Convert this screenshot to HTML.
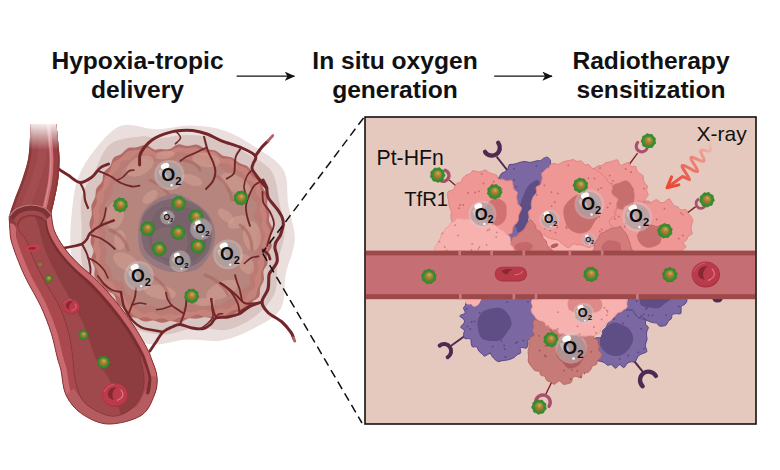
<!DOCTYPE html>
<html lang="en"><head><meta charset="utf-8"><title>Hypoxia-tropic delivery</title>
<style>
html,body{margin:0;padding:0;background:#fff;}
body{width:780px;height:470px;overflow:hidden;position:relative;font-family:"Liberation Sans",Arial,sans-serif;}
.h{position:absolute;text-align:center;font-weight:bold;font-size:24.6px;line-height:29.5px;color:#111;white-space:nowrap;transform:translateX(-50%);}
svg{position:absolute;left:0;top:0;}
svg text{font-family:"Liberation Sans",Arial,sans-serif;}
</style></head><body>
<svg width="780" height="470" viewBox="0 0 780 470">
<defs>
<marker id="ah" viewBox="0 0 10.3 9.2" refX="9.6" refY="4.6" markerWidth="10.3" markerHeight="9.2" orient="auto" markerUnits="userSpaceOnUse"><path d="M0 0L10.3 4.6L0 9.2L2.6 4.6Z" fill="#111"/></marker>
<radialGradient id="gold" cx="0.56" cy="0.32" r="0.75"><stop offset="0" stop-color="#CCAE68"/><stop offset="0.35" stop-color="#AC883A"/><stop offset="1" stop-color="#886828"/></radialGradient>
<linearGradient id="fadeTop" x1="0" y1="0" x2="0" y2="1"><stop offset="0" stop-color="#fff" stop-opacity="1"/><stop offset="0.17" stop-color="#fff" stop-opacity="0.85"/><stop offset="1" stop-color="#fff" stop-opacity="0"/></linearGradient>
<clipPath id="tubeClip"><path d="M30.8 124.0C30.6 127.5 30.0 138.8 29.5 145.0C29.0 151.2 29.0 154.9 27.7 161.0C26.4 167.1 23.7 175.0 21.5 181.5C19.3 188.0 16.4 194.2 14.4 200.0C12.3 205.8 10.0 212.4 9.2 216.4C8.4 220.4 9.4 222.7 9.5 224.0L52.0 224.0C51.9 222.4 50.9 218.4 51.3 214.4C51.7 210.4 53.3 205.5 54.4 200.0C55.5 194.5 57.1 188.0 58.0 181.5C58.9 175.0 59.4 167.1 59.5 161.0C59.6 154.9 59.0 151.2 58.5 145.0C58.0 138.8 56.8 127.5 56.4 124.0Z"/></clipPath>
<clipPath id="vesClip"><path d="M9.2 216.4C9.3 218.3 9.5 223.9 9.8 228.0C10.2 232.1 9.9 235.4 11.3 241.0C12.8 246.6 15.9 255.0 18.5 261.5C21.1 268.0 22.9 272.5 26.7 280.0C30.4 287.5 36.9 297.8 41.0 306.7C45.1 315.6 48.6 324.8 51.3 333.3C54.0 341.9 55.8 351.8 57.4 358.0C59.0 364.2 59.6 364.3 61.0 370.5C62.4 376.7 62.6 387.8 66.0 395.0C69.4 402.2 74.5 408.8 81.5 413.6C88.5 418.4 98.1 423.7 108.0 424.0C117.9 424.3 133.3 420.4 141.0 415.6C148.7 410.8 151.7 401.5 154.4 395.0C157.1 388.5 157.5 382.7 157.0 376.7C156.5 370.7 153.1 363.5 151.5 359.0C149.9 354.5 150.7 355.4 147.7 349.7C144.7 344.0 138.8 333.2 133.3 325.0C127.8 316.8 121.1 308.0 114.9 300.5C108.8 293.0 102.6 286.1 96.4 280.0C90.2 273.9 83.5 269.1 78.0 263.6C72.5 258.1 67.5 252.5 63.6 247.0C59.7 241.5 56.5 236.2 54.4 230.8C52.3 225.4 51.8 217.1 51.3 214.4C50.1 213.3 47.5 209.4 44.0 207.8C40.5 206.2 35.0 204.9 30.5 205.0C26.0 205.1 20.6 206.7 17.0 208.6C13.4 210.5 10.5 215.1 9.2 216.4Z"/></clipPath><clipPath id="lumClip"><path d="M17.0 225.0C17.5 226.2 18.4 229.3 20.0 232.0C21.6 234.7 24.4 236.3 26.7 241.0C29.0 245.7 31.1 253.5 34.0 260.0C36.9 266.5 39.8 272.2 44.0 280.0C48.2 287.8 55.4 297.9 59.5 306.7C63.6 315.5 66.5 324.4 68.7 333.0C70.9 341.6 71.7 350.0 72.8 358.0C73.9 366.0 73.6 373.6 75.4 380.8C77.2 388.0 79.2 395.8 83.6 401.3C88.0 406.8 96.2 411.2 102.0 413.6C107.8 416.0 113.0 417.0 118.5 415.6C124.0 414.2 130.7 410.5 134.9 405.4C139.2 400.3 143.0 392.6 144.0 385.0C145.0 377.4 142.2 366.2 141.0 360.0C139.8 353.8 138.9 353.0 136.5 348.0C134.1 343.0 131.2 336.9 126.5 330.0C121.8 323.1 114.6 313.7 108.5 306.3C102.4 298.9 96.1 292.1 90.0 285.8C83.9 279.6 77.4 274.5 72.0 268.8C66.6 263.1 61.4 257.1 57.4 251.4C53.4 245.7 50.2 239.4 48.2 234.4C46.2 229.4 46.0 223.7 45.6 221.5C44.8 220.8 43.4 218.4 41.0 217.3C38.6 216.2 34.3 215.0 31.0 215.2C27.7 215.3 23.3 216.6 21.0 218.2C18.7 219.8 17.7 223.9 17.0 225.0Z"/></clipPath><clipPath id="panelClip"><rect x="366" y="118" width="389" height="305"/></clipPath><linearGradient id="xg" gradientUnits="userSpaceOnUse" x1="714" y1="144" x2="668" y2="186"><stop offset="0" stop-color="#F1C3B6"/><stop offset="0.3" stop-color="#EE9486"/><stop offset="0.7" stop-color="#EA5E50"/><stop offset="1" stop-color="#EA4E3A"/></linearGradient></defs>
<line x1="236.6" y1="76.2" x2="294.4" y2="76.2" stroke="#111" stroke-width="1.25" marker-end="url(#ah)"/>
<line x1="494.2" y1="76.2" x2="552" y2="76.2" stroke="#111" stroke-width="1.25" marker-end="url(#ah)"/>
<g id="tumor">
<path d="M156.4 129.3C167.9 129.3 179.2 125.3 190.6 125.5C202.0 125.8 213.7 127.0 224.7 130.7C235.8 134.5 247.1 141.5 256.9 148.1C266.8 154.7 278.4 160.9 283.6 170.3C288.8 179.7 286.3 192.8 288.2 204.3C290.0 215.7 295.2 227.6 294.8 239.1C294.5 250.7 288.2 262.0 285.9 273.6C283.5 285.2 286.1 299.6 280.7 308.8C275.3 318.0 263.4 323.3 253.6 328.6C243.8 333.9 232.9 338.7 221.8 340.5C210.8 342.3 198.7 338.9 187.3 339.6C175.9 340.2 164.5 345.3 153.4 344.5C142.2 343.6 130.1 340.5 120.5 334.6C110.9 328.8 103.0 318.2 95.9 309.4C88.8 300.6 81.9 292.2 77.7 282.0C73.5 271.8 71.5 259.6 70.6 248.1C69.6 236.5 70.6 224.5 71.8 212.9C73.0 201.3 74.0 189.0 77.9 178.4C81.8 167.7 88.0 157.9 95.4 149.1C102.7 140.3 111.6 128.9 121.7 125.6C131.9 122.3 144.9 129.3 156.4 129.3Z" fill="#EADFDD"/>
<path d="M158.3 138.2C166.1 137.9 177.5 134.8 187.6 134.9C197.7 135.0 209.2 135.8 218.9 138.8C228.6 141.8 236.9 147.3 245.7 152.8C254.5 158.2 266.0 163.2 271.6 171.4C277.2 179.6 277.1 191.7 279.3 201.9C281.5 212.1 284.9 222.6 284.6 232.7C284.3 242.8 279.2 252.3 277.6 262.4C275.9 272.5 278.4 284.3 274.7 293.3C271.0 302.3 263.2 310.2 255.3 316.2C247.3 322.3 236.9 327.9 227.0 329.7C217.2 331.6 206.5 326.7 196.2 327.5C186.0 328.3 175.7 334.1 165.6 334.4C155.6 334.7 145.1 332.9 135.9 329.3C126.6 325.7 117.7 319.5 110.3 312.9C102.9 306.2 96.3 297.9 91.5 289.3C86.7 280.7 83.2 271.3 81.6 261.4C80.0 251.5 81.7 240.3 81.7 229.7C81.7 219.1 79.5 207.6 81.7 197.7C83.9 187.8 90.2 179.3 95.0 170.3C99.8 161.4 102.9 149.6 110.4 144.0C118.0 138.4 132.5 137.5 140.5 136.5C148.4 135.6 150.4 138.5 158.3 138.2Z" fill="#D9C5C2"/>
<path d="M159.9 149.1C162.5 149.1 166.5 149.8 169.5 149.0C172.5 148.3 174.9 144.9 177.9 144.4C181.0 143.9 184.5 146.1 187.7 146.1C190.8 146.2 194.1 144.2 197.1 144.7C200.1 145.2 202.7 148.1 205.7 149.1C208.7 150.0 212.3 149.5 215.2 150.6C218.0 151.7 220.2 154.5 223.0 155.7C225.8 156.8 229.2 156.3 231.9 157.5C234.7 158.8 236.9 161.5 239.6 163.1C242.2 164.6 245.7 164.9 248.0 166.8C250.3 168.7 251.3 172.1 253.5 174.3C255.7 176.5 259.6 177.5 261.2 179.8C262.8 182.1 262.0 185.4 263.0 188.0C264.1 190.6 267.0 193.0 267.7 195.6C268.3 198.3 266.8 201.1 267.1 203.9C267.4 206.7 269.1 209.6 269.5 212.4C269.8 215.2 268.6 217.9 269.1 220.7C269.6 223.5 272.2 226.3 272.4 229.2C272.6 232.1 270.4 235.0 270.2 237.9C270.1 240.8 272.2 243.8 271.6 246.7C271.1 249.5 267.7 252.1 267.0 254.9C266.3 257.8 268.0 260.9 267.5 263.6C266.9 266.3 264.1 268.4 263.5 271.1C262.9 273.8 264.5 277.0 263.9 279.7C263.4 282.5 261.1 284.9 260.3 287.7C259.5 290.5 260.5 294.1 259.2 296.4C257.9 298.8 254.6 299.7 252.6 301.7C250.6 303.7 249.5 306.9 247.2 308.4C245.0 309.9 241.6 309.6 239.0 310.9C236.3 312.1 234.1 315.0 231.5 315.9C228.8 316.7 225.8 315.4 223.2 315.9C220.5 316.5 218.3 319.0 215.5 319.2C212.6 319.4 209.3 317.1 206.2 317.0C203.1 316.9 200.0 318.4 197.0 318.6C194.1 318.9 191.2 317.8 188.4 318.5C185.6 319.1 183.1 322.2 180.2 322.6C177.2 323.1 173.9 321.0 170.9 321.0C167.9 321.0 164.9 322.9 162.0 322.8C159.1 322.7 156.1 320.6 153.2 320.4C150.3 320.2 147.6 321.9 144.8 321.5C142.0 321.1 139.2 318.9 136.5 318.0C133.7 317.2 130.3 317.9 128.2 316.3C126.1 314.8 125.5 311.0 123.8 308.9C122.0 306.8 119.2 306.0 117.5 303.6C115.8 301.2 115.7 296.8 113.7 294.5C111.7 292.3 107.8 291.8 105.6 289.9C103.3 288.0 102.0 285.4 100.2 283.1C98.4 280.9 95.4 278.8 94.5 276.2C93.6 273.6 95.2 270.3 94.6 267.5C94.1 264.8 91.3 262.4 91.2 259.6C91.0 256.8 93.7 253.8 93.6 250.9C93.5 248.0 90.9 245.2 90.6 242.2C90.2 239.2 91.7 236.0 91.6 233.0C91.4 229.9 89.4 227.0 89.5 223.9C89.5 220.9 91.5 217.7 91.8 214.6C92.2 211.6 90.9 208.7 91.4 205.8C92.0 202.8 94.3 199.7 95.2 196.9C96.0 194.0 95.3 191.3 96.4 188.7C97.6 186.1 100.9 183.9 102.2 181.3C103.4 178.6 102.4 175.1 103.7 172.6C105.0 170.1 108.4 168.6 110.1 166.1C111.7 163.6 111.8 159.8 113.7 157.8C115.5 155.8 118.8 155.7 121.2 154.1C123.6 152.4 125.6 149.2 128.1 148.0C130.6 146.9 133.3 147.7 136.3 147.2C139.3 146.7 143.2 144.6 146.2 145.0C149.2 145.4 151.8 148.8 154.1 149.5C156.4 150.2 157.4 149.2 159.9 149.1Z" fill="#B26C65"/>
<path d="M160.5 151.5C163.0 151.2 166.8 151.6 169.7 150.9C172.6 150.1 175.1 147.7 178.1 147.2C181.1 146.8 184.4 148.2 187.5 148.2C190.6 148.2 193.7 146.8 196.6 147.4C199.5 148.0 201.9 150.9 204.9 151.6C207.9 152.4 211.8 151.0 214.5 152.1C217.3 153.2 219.0 157.0 221.7 158.2C224.4 159.4 228.1 158.0 230.8 159.1C233.5 160.3 235.3 163.6 237.9 165.1C240.5 166.7 244.1 166.5 246.4 168.3C248.7 170.1 249.5 173.6 251.6 175.8C253.7 178.0 257.3 178.9 258.9 181.4C260.5 183.8 260.0 187.7 261.1 190.4C262.2 193.1 265.0 195.0 265.6 197.6C266.2 200.2 264.3 203.2 264.5 206.0C264.7 208.8 266.4 211.7 266.7 214.5C267.0 217.3 265.8 220.1 266.4 222.8C266.9 225.6 269.7 228.2 270.0 231.0C270.3 233.8 268.2 236.6 267.9 239.4C267.7 242.2 269.1 245.1 268.5 247.8C267.9 250.5 264.8 252.9 264.1 255.6C263.4 258.3 264.9 261.2 264.4 264.0C264.0 266.8 261.8 269.6 261.3 272.5C260.7 275.5 261.7 278.8 261.1 281.6C260.5 284.3 258.7 286.4 257.7 289.0C256.7 291.6 257.0 295.0 255.4 297.1C253.7 299.3 250.1 300.1 247.9 302.0C245.8 303.9 244.8 307.2 242.3 308.6C239.8 310.0 235.9 309.2 233.0 310.3C230.1 311.4 227.9 314.4 225.0 315.1C222.1 315.8 218.7 314.3 215.6 314.7C212.6 315.1 209.7 317.6 206.7 317.5C203.7 317.5 200.9 314.4 197.9 314.5C194.9 314.6 191.6 317.5 188.6 318.0C185.6 318.5 182.7 317.0 179.8 317.6C177.0 318.1 174.1 320.9 171.2 321.1C168.4 321.2 165.5 318.6 162.6 318.3C159.7 318.1 156.6 319.9 153.9 319.7C151.1 319.5 148.8 317.7 146.0 317.3C143.2 317.0 139.7 318.8 137.0 317.8C134.3 316.8 132.2 313.1 129.8 311.3C127.4 309.5 124.3 309.3 122.6 307.0C120.9 304.8 121.0 300.2 119.3 297.7C117.6 295.2 114.3 294.0 112.2 291.9C110.1 289.9 108.7 287.3 106.6 285.3C104.5 283.4 100.9 282.4 99.5 280.2C98.1 278.0 98.9 274.6 98.1 271.9C97.3 269.2 95.1 266.9 94.7 264.2C94.4 261.6 96.2 258.7 95.9 256.0C95.7 253.3 93.5 250.6 93.3 247.7C93.1 244.9 94.7 241.7 94.5 238.8C94.2 235.9 91.7 233.2 91.6 230.2C91.6 227.2 93.7 224.1 93.9 220.9C94.2 217.7 92.6 213.7 93.1 210.7C93.5 207.8 96.1 205.8 96.7 203.1C97.3 200.3 95.9 196.9 96.9 194.2C97.9 191.5 101.5 189.5 102.8 186.8C104.1 184.1 103.4 180.8 104.6 178.2C105.8 175.5 108.6 173.4 110.0 170.8C111.4 168.2 111.3 165.0 113.1 162.8C114.9 160.7 118.2 159.8 120.6 157.9C123.1 156.0 125.1 152.8 127.9 151.5C130.7 150.1 134.5 150.4 137.7 149.9C140.9 149.3 144.3 147.6 147.1 148.0C150.0 148.5 152.5 151.9 154.7 152.5C157.0 153.0 158.0 151.7 160.5 151.5Z" fill="#C5827A"/>
<path d="M161.7 155.9C164.0 156.1 167.8 157.0 170.5 156.3C173.3 155.7 175.5 152.6 178.3 152.1C181.0 151.6 184.2 153.1 187.1 153.1C190.0 153.2 193.0 151.9 195.7 152.4C198.5 152.9 200.7 155.7 203.6 156.4C206.4 157.1 210.1 155.6 212.7 156.7C215.3 157.8 216.7 161.8 219.2 162.9C221.7 164.0 225.4 162.3 227.9 163.3C230.5 164.4 232.1 167.6 234.6 169.1C237.0 170.6 240.3 170.6 242.4 172.3C244.5 174.0 245.2 177.4 247.3 179.4C249.4 181.3 253.5 181.8 254.9 184.1C256.3 186.4 254.8 190.4 256.0 193.1C257.1 195.8 261.0 197.8 261.6 200.5C262.2 203.1 259.3 206.2 259.4 208.9C259.5 211.7 261.9 214.0 262.2 216.9C262.6 219.9 261.2 223.5 261.7 226.6C262.2 229.8 265.0 232.9 265.0 236.0C265.0 239.0 262.4 242.2 261.9 245.2C261.5 248.1 262.9 250.9 262.2 253.7C261.5 256.4 258.5 259.0 257.8 261.8C257.2 264.6 258.8 267.7 258.3 270.5C257.8 273.3 255.5 275.6 254.8 278.4C254.2 281.2 255.7 284.8 254.6 287.2C253.5 289.7 249.9 290.8 248.2 293.1C246.5 295.3 246.4 299.0 244.3 300.7C242.3 302.4 238.6 302.1 235.9 303.4C233.3 304.7 231.1 307.7 228.4 308.5C225.7 309.3 222.4 307.7 219.5 308.3C216.7 308.9 214.1 311.8 211.3 312.0C208.6 312.2 205.8 309.5 203.0 309.5C200.1 309.5 197.2 311.6 194.4 311.9C191.6 312.3 189.1 311.3 186.2 311.8C183.4 312.4 180.2 314.9 177.4 315.2C174.5 315.5 171.9 313.5 169.1 313.6C166.4 313.8 163.6 316.1 160.9 315.8C158.2 315.5 155.8 312.3 152.8 311.9C149.8 311.5 145.8 314.2 142.9 313.5C139.9 312.9 137.8 309.9 135.2 308.2C132.7 306.6 129.4 305.6 127.5 303.5C125.6 301.3 125.6 297.4 123.8 295.2C122.0 292.9 118.6 292.0 116.7 289.9C114.9 287.8 114.6 284.2 112.6 282.4C110.5 280.5 106.1 281.0 104.6 278.9C103.1 276.7 104.6 272.3 103.7 269.4C102.8 266.4 99.6 264.1 99.1 261.2C98.6 258.3 100.9 254.9 100.8 252.1C100.7 249.2 98.6 246.9 98.5 244.1C98.4 241.4 100.6 238.4 100.4 235.6C100.1 232.8 97.4 230.5 97.2 227.6C97.1 224.7 99.2 221.4 99.5 218.1C99.8 214.9 98.3 211.1 98.9 208.1C99.6 205.1 102.4 203.0 103.3 200.2C104.1 197.4 103.2 193.8 104.2 191.1C105.2 188.5 108.2 187.0 109.4 184.4C110.6 181.8 110.1 178.1 111.5 175.6C113.0 173.1 116.5 171.6 118.2 169.2C119.9 166.9 119.8 163.1 121.9 161.4C123.9 159.7 127.9 160.6 130.6 159.2C133.3 157.7 135.2 153.5 137.9 152.8C140.6 152.1 143.8 154.4 147.0 154.7C150.2 155.1 154.5 154.6 156.9 154.8C159.4 155.0 159.5 155.6 161.7 155.9Z" fill="#B97B73"/>
<path d="M163.2 161.0C166.5 161.0 169.6 162.2 172.6 161.6C175.5 160.9 178.2 157.1 181.2 156.8C184.2 156.6 187.4 159.7 190.6 159.9C193.7 160.2 197.2 157.6 200.2 158.3C203.1 159.0 205.3 162.8 208.3 163.9C211.2 165.1 214.9 163.8 217.7 165.1C220.5 166.4 222.3 170.3 225.2 171.8C228.2 173.2 232.7 171.9 235.3 173.6C237.9 175.4 238.7 179.8 241.0 182.2C243.4 184.5 247.8 185.0 249.5 187.6C251.3 190.2 250.4 194.7 251.7 197.7C253.0 200.7 256.8 202.7 257.1 205.7C257.4 208.7 253.1 212.5 253.4 215.7C253.7 219.0 258.4 221.8 258.9 225.2C259.5 228.5 256.8 232.2 256.7 235.7C256.5 239.2 258.6 242.8 258.0 246.0C257.3 249.2 253.4 251.9 252.7 255.0C252.1 258.1 254.5 261.7 254.0 264.7C253.4 267.8 250.0 270.1 249.4 273.3C248.8 276.4 251.3 280.9 250.2 283.7C249.0 286.5 244.8 287.5 242.5 289.9C240.3 292.3 239.1 296.4 236.6 298.1C234.1 299.8 230.4 298.6 227.4 300.0C224.4 301.3 221.7 305.3 218.7 306.0C215.6 306.8 212.3 304.5 209.1 304.6C205.9 304.7 202.8 306.8 199.4 306.8C196.0 306.8 191.9 304.0 188.8 304.4C185.6 304.8 183.5 308.7 180.3 309.1C177.2 309.5 173.4 306.7 170.0 306.9C166.6 307.1 163.0 310.4 159.8 310.2C156.6 310.0 154.0 306.4 150.6 305.8C147.3 305.1 142.6 307.6 139.7 306.4C136.9 305.1 135.8 300.8 133.5 298.4C131.2 296.0 127.8 294.7 126.0 292.2C124.1 289.6 124.7 285.2 122.5 283.0C120.3 280.8 114.8 281.0 112.8 278.8C110.8 276.6 111.9 272.5 110.5 269.6C109.2 266.7 105.6 264.6 105.0 261.6C104.4 258.7 107.0 255.1 106.8 251.9C106.7 248.6 104.2 245.2 104.1 242.1C104.0 238.9 106.3 235.9 106.1 232.9C105.8 229.9 102.5 227.0 102.6 223.8C102.7 220.7 106.3 217.4 106.8 213.9C107.3 210.5 104.8 206.2 105.6 203.1C106.4 199.9 110.4 198.1 111.7 195.0C113.0 191.9 111.9 187.6 113.4 184.6C114.9 181.7 118.8 180.0 120.6 177.2C122.4 174.4 121.7 169.8 124.0 167.7C126.3 165.6 131.3 166.3 134.4 164.7C137.5 163.0 139.6 158.3 142.7 157.7C145.8 157.1 149.4 160.8 152.9 161.3C156.3 161.9 160.0 160.9 163.2 161.0Z" fill="#B6857D"/>
<ellipse cx="140" cy="166" rx="15" ry="9" fill="#D3A094" opacity="0.55" transform="rotate(-30 140 166)"/>
<ellipse cx="206" cy="160" rx="14" ry="7" fill="#D3A094" opacity="0.55" transform="rotate(10 206 160)"/>
<ellipse cx="236" cy="184" rx="17" ry="8" fill="#D3A094" opacity="0.55" transform="rotate(30 236 184)"/>
<ellipse cx="115" cy="215" rx="9" ry="14" fill="#D3A094" opacity="0.55" transform="rotate(10 115 215)"/>
<ellipse cx="252" cy="236" rx="9" ry="15" fill="#D3A094" opacity="0.55" transform="rotate(-5 252 236)"/>
<ellipse cx="126" cy="262" rx="14" ry="8" fill="#D3A094" opacity="0.55" transform="rotate(30 126 262)"/>
<ellipse cx="160" cy="292" rx="16" ry="7" fill="#D3A094" opacity="0.55" transform="rotate(10 160 292)"/>
<ellipse cx="222" cy="290" rx="17" ry="8" fill="#D3A094" opacity="0.55" transform="rotate(-25 222 290)"/>
<ellipse cx="192" cy="180" rx="11" ry="5" fill="#D3A094" opacity="0.55" transform="rotate(20 192 180)"/>
<ellipse cx="150" cy="197" rx="9" ry="5" fill="#D3A094" opacity="0.55" transform="rotate(-40 150 197)"/>
<ellipse cx="226" cy="216" rx="10" ry="5" fill="#D3A094" opacity="0.55" transform="rotate(40 226 216)"/>
<ellipse cx="120" cy="240" rx="6" ry="10" fill="#D3A094" opacity="0.55" transform="rotate(0 120 240)"/>
<ellipse cx="205" cy="302" rx="10" ry="4" fill="#D3A094" opacity="0.55" transform="rotate(0 205 302)"/>
<ellipse cx="246" cy="264" rx="7" ry="11" fill="#D3A094" opacity="0.55" transform="rotate(-30 246 264)"/>
<ellipse cx="165" cy="155" rx="10" ry="4" fill="#D3A094" opacity="0.55" transform="rotate(-10 165 155)"/>
<ellipse cx="238" cy="222" rx="11" ry="6" fill="#D3A094" opacity="0.55" transform="rotate(-20 238 222)"/>
<path d="M150 180 Q168 188 175 205" stroke="#A9655F" stroke-width="3" fill="none" opacity="0.6" stroke-linecap="round"/>
<path d="M215 175 Q229 183 232 200" stroke="#A9655F" stroke-width="3" fill="none" opacity="0.6" stroke-linecap="round"/>
<path d="M110 230 Q125 236 128 250" stroke="#A9655F" stroke-width="3" fill="none" opacity="0.6" stroke-linecap="round"/>
<path d="M240 225 Q252 233 252 250" stroke="#A9655F" stroke-width="3" fill="none" opacity="0.6" stroke-linecap="round"/>
<path d="M150 275 Q166 283 170 300" stroke="#A9655F" stroke-width="3" fill="none" opacity="0.6" stroke-linecap="round"/>
<path d="M205 275 Q222 281 228 295" stroke="#A9655F" stroke-width="3" fill="none" opacity="0.6" stroke-linecap="round"/>
<path d="M180 160 Q196 161 200 170" stroke="#A9655F" stroke-width="3" fill="none" opacity="0.6" stroke-linecap="round"/>
<path d="M215.2 234.0C215.4 240.4 213.5 247.5 210.5 253.4C207.4 259.3 202.7 266.2 196.9 269.3C191.2 272.5 182.8 272.6 176.0 272.3C169.2 272.0 162.0 270.5 156.2 267.4C150.5 264.2 144.4 259.0 141.4 253.5C138.4 247.9 138.2 240.5 138.2 234.0C138.3 227.5 138.8 220.4 141.7 214.7C144.7 209.1 150.2 203.5 155.9 200.1C161.6 196.6 169.5 193.5 176.0 193.9C182.5 194.3 189.1 199.0 194.6 202.6C200.2 206.1 205.8 210.0 209.3 215.3C212.7 220.5 215.0 227.6 215.2 234.0Z" fill="#96797F"/>
<path d="M211.9 234.0C211.9 240.0 210.9 246.8 208.0 251.9C205.1 257.1 199.8 262.6 194.5 265.1C189.2 267.6 181.8 267.5 176.0 267.0C170.2 266.5 164.5 264.6 159.4 261.9C154.3 259.3 148.5 255.8 145.4 251.1C142.4 246.5 141.7 239.9 141.3 234.0C140.9 228.1 140.6 220.8 143.3 215.6C146.0 210.4 152.0 205.6 157.5 202.8C162.9 199.9 169.9 198.3 176.0 198.4C182.1 198.5 188.8 200.5 194.2 203.4C199.5 206.3 205.0 210.9 208.0 216.0C210.9 221.1 211.9 228.0 211.9 234.0Z" fill="#7F676F"/>
<path d="M206.7 235.0C207.0 240.0 207.0 246.0 204.7 250.5C202.5 255.0 197.6 259.1 193.0 261.8C188.4 264.6 182.1 267.3 177.0 266.9C171.9 266.5 166.6 262.4 162.4 259.5C158.1 256.6 153.9 253.4 151.5 249.3C149.1 245.2 148.0 239.8 148.0 235.0C148.0 230.2 149.3 225.3 151.5 220.7C153.6 216.2 156.6 210.2 160.8 207.9C165.1 205.6 171.7 206.8 177.0 207.0C182.3 207.2 188.3 206.6 192.6 208.9C196.8 211.2 200.1 216.4 202.5 220.8C204.8 225.1 206.3 230.0 206.7 235.0Z" fill="#77626C"/>
<path d="M187.5 242.0C187.5 245.1 187.9 248.7 186.0 251.2C184.1 253.6 179.8 255.6 176.0 256.7C172.3 257.8 167.1 258.6 163.6 257.5C160.2 256.5 157.3 253.0 155.3 250.4C153.4 247.8 152.2 244.9 151.9 242.0C151.7 239.1 151.9 235.2 153.9 232.8C155.9 230.3 160.3 228.0 163.9 227.3C167.6 226.5 172.0 227.4 175.6 228.3C179.3 229.2 184.0 230.6 185.9 232.9C187.9 235.1 187.5 238.9 187.5 242.0Z" fill="#82696F" opacity="0.85"/>
</g>
<path d="M139.6 165.0C139.7 163.3 139.2 158.0 140.0 155.0C140.8 152.0 142.7 149.5 144.7 147.0C146.7 144.5 149.4 141.9 152.0 140.0C154.6 138.1 156.0 137.1 160.0 135.6C164.0 134.1 170.5 131.8 176.0 131.0C181.5 130.2 187.6 130.0 192.8 130.5C198.0 131.0 202.2 132.3 207.0 134.0C211.8 135.7 215.7 138.5 221.5 140.8C227.3 143.1 236.3 145.5 242.0 148.0C247.7 150.5 253.6 153.3 255.4 156.0C257.2 158.7 253.5 161.8 253.0 164.0C252.5 166.2 251.3 167.0 252.3 169.5C253.3 172.0 256.6 175.9 259.0 179.0C261.4 182.1 266.0 187.8 266.7 188.0C267.4 188.2 263.6 181.3 263.0 180.0" fill="none" stroke="#73262A" stroke-width="3.0" stroke-linecap="round" stroke-linejoin="round" opacity="1"/>
<path d="M255.4 156.0C256.5 154.5 259.9 149.5 262.0 147.0C264.1 144.5 267.0 142.0 268.0 141.0" fill="none" stroke="#73262A" stroke-width="3.0" stroke-linecap="round" stroke-linejoin="round" opacity="1"/>
<path d="M268.0 141.0C268.8 140.1 272.0 136.5 272.8 135.6" fill="none" stroke="#B4626A" stroke-width="2.8" stroke-linecap="round" stroke-linejoin="round" opacity="1"/>
<path d="M266.7 188.0C266.9 189.5 266.9 194.3 268.0 197.0C269.1 199.7 271.3 201.7 273.0 204.0C274.7 206.3 276.8 208.4 278.3 210.6C279.8 212.8 281.1 214.8 282.0 217.0C282.9 219.2 283.4 221.8 283.4 224.0C283.4 226.2 282.6 228.0 282.0 230.0C281.4 232.0 281.0 234.0 280.0 236.0C279.0 238.0 276.9 240.0 276.0 242.0C275.1 244.0 274.8 246.0 274.9 248.0C275.0 250.0 276.1 251.7 276.5 254.0C276.9 256.3 277.8 259.3 277.0 262.0C276.2 264.7 273.3 267.8 272.0 270.0C270.7 272.2 269.7 271.8 269.0 275.0C268.3 278.2 269.2 284.5 268.0 289.0C266.8 293.5 262.0 298.1 262.0 302.0C262.0 305.9 264.7 309.2 268.0 312.5C271.3 315.8 278.2 318.7 282.0 322.0C285.8 325.3 289.1 329.7 291.0 332.4C292.9 335.1 293.1 337.1 293.5 338.0" fill="none" stroke="#73262A" stroke-width="3.1" stroke-linecap="round" stroke-linejoin="round" opacity="1"/>
<path d="M293.5 338.0C293.7 338.5 294.5 340.5 294.7 341.0" fill="none" stroke="#B4626A" stroke-width="3.0" stroke-linecap="round" stroke-linejoin="round" opacity="1"/>
<path d="M262.5 192.0C262.7 193.8 262.2 199.7 263.5 203.0C264.8 206.3 268.2 208.5 270.0 212.0C271.8 215.5 274.0 220.0 274.0 224.0C274.0 228.0 271.2 232.3 270.0 236.0C268.8 239.7 267.5 244.3 267.0 246.0" fill="none" stroke="#73262A" stroke-width="1.8" stroke-linecap="round" stroke-linejoin="round" opacity="1"/>
<path d="M263.0 250.0C263.8 250.7 266.8 252.5 268.0 254.0C269.2 255.5 269.7 258.2 270.0 259.0" fill="none" stroke="#73262A" stroke-width="2.8" stroke-linecap="round" stroke-linejoin="round" opacity="1"/>
<path d="M204.0 136.7C204.7 139.1 206.5 146.8 208.0 151.0C209.5 155.2 211.8 158.6 213.0 162.0C214.2 165.4 215.4 168.3 215.4 171.5C215.4 174.7 214.6 178.1 213.0 181.0C211.4 183.9 207.2 187.7 206.0 189.0" fill="none" stroke="#73262A" stroke-width="2.0" stroke-linecap="round" stroke-linejoin="round" opacity="1"/>
<path d="M205.5 148.0C203.8 148.8 198.2 151.5 195.0 153.0C191.8 154.5 188.4 155.7 186.0 157.0C183.6 158.3 181.4 160.3 180.5 161.0" fill="none" stroke="#73262A" stroke-width="1.8" stroke-linecap="round" stroke-linejoin="round" opacity="1"/>
<path d="M241.0 148.0C240.2 149.3 237.0 153.4 236.0 156.0C235.0 158.6 235.3 160.4 234.9 163.3C234.5 166.2 235.2 171.0 233.8 173.6C232.4 176.2 227.9 177.8 226.7 178.7" fill="none" stroke="#73262A" stroke-width="1.9" stroke-linecap="round" stroke-linejoin="round" opacity="1"/>
<path d="M176.0 131.5C176.8 132.5 180.6 135.6 180.5 137.7C180.4 139.8 176.2 142.8 175.4 143.8" fill="none" stroke="#73262A" stroke-width="1.6" stroke-linecap="round" stroke-linejoin="round" opacity="1"/>
<path d="M252.3 169.5C251.4 170.6 248.4 173.2 247.0 176.0C245.6 178.8 244.2 182.7 244.0 186.0C243.8 189.3 245.7 194.3 246.0 196.0" fill="none" stroke="#73262A" stroke-width="1.6" stroke-linecap="round" stroke-linejoin="round" opacity="1"/>
<path d="M263.0 180.0C261.5 181.0 256.3 183.3 254.0 186.0C251.7 188.7 250.3 192.7 249.0 196.0C247.7 199.3 246.3 202.7 246.0 206.0C245.7 209.3 246.3 212.7 247.0 216.0C247.7 219.3 249.5 224.3 250.0 226.0" fill="none" stroke="#73262A" stroke-width="1.8" stroke-linecap="round" stroke-linejoin="round" opacity="1"/>
<path d="M58.5 169.0C60.1 170.0 64.4 172.8 68.0 175.0C71.6 177.2 76.0 182.2 80.0 182.5C84.0 182.8 88.7 179.4 92.0 177.0C95.3 174.6 97.2 170.2 100.0 168.0C102.8 165.8 107.2 164.7 108.7 164.0" fill="none" stroke="#73262A" stroke-width="2.8" stroke-linecap="round" stroke-linejoin="round" opacity="1"/>
<path d="M80.0 182.5C80.7 183.9 83.2 188.1 84.0 191.0C84.8 193.9 84.3 197.2 85.0 200.0C85.7 202.8 87.5 206.7 88.0 208.0" fill="none" stroke="#73262A" stroke-width="2.2" stroke-linecap="round" stroke-linejoin="round" opacity="1"/>
<path d="M98.5 171.0C100.4 171.8 106.2 174.0 110.0 176.0C113.8 178.0 117.3 181.2 121.0 183.0C124.7 184.8 128.9 186.1 132.0 186.5C135.1 186.9 138.2 185.8 139.5 185.6" fill="none" stroke="#73262A" stroke-width="1.9" stroke-linecap="round" stroke-linejoin="round" opacity="1"/>
<path d="M117.0 180.5C118.0 179.9 121.0 178.6 123.0 177.0C125.0 175.4 127.2 172.2 129.0 171.0C130.8 169.8 133.2 170.2 134.0 170.0" fill="none" stroke="#73262A" stroke-width="1.6" stroke-linecap="round" stroke-linejoin="round" opacity="1"/>
<path d="M63.6 248.0C65.0 247.8 68.9 247.2 72.0 246.5C75.1 245.8 79.5 245.2 82.0 244.0C84.5 242.8 85.6 240.9 87.0 239.0C88.4 237.1 88.1 235.0 90.3 232.8C92.5 230.6 96.1 228.1 100.0 226.0C103.9 223.9 111.5 221.4 113.8 220.5" fill="none" stroke="#73262A" stroke-width="2.5" stroke-linecap="round" stroke-linejoin="round" opacity="1"/>
<path d="M82.0 244.0C82.8 245.7 85.6 250.1 87.0 254.0C88.4 257.9 89.8 264.0 90.3 267.7C90.8 271.4 90.0 274.6 90.0 276.0" fill="none" stroke="#73262A" stroke-width="2.0" stroke-linecap="round" stroke-linejoin="round" opacity="1"/>
<path d="M91.0 235.0C92.5 235.5 97.2 236.7 100.0 238.0C102.8 239.3 105.5 241.2 108.0 243.0C110.5 244.8 113.8 248.0 114.9 249.0" fill="none" stroke="#73262A" stroke-width="1.8" stroke-linecap="round" stroke-linejoin="round" opacity="1"/>
<path d="M88.0 258.0C89.3 258.7 93.3 260.0 96.0 262.0C98.7 264.0 102.0 267.3 104.0 270.0C106.0 272.7 107.3 276.7 108.0 278.0" fill="none" stroke="#73262A" stroke-width="1.6" stroke-linecap="round" stroke-linejoin="round" opacity="1"/>
<path d="M100.0 226.0C100.7 224.7 103.0 221.0 104.0 218.0C105.0 215.0 105.7 209.7 106.0 208.0" fill="none" stroke="#73262A" stroke-width="1.6" stroke-linecap="round" stroke-linejoin="round" opacity="1"/>
<path d="M150.0 351.0C151.0 349.5 153.8 345.2 156.0 342.0C158.2 338.8 160.3 334.5 163.0 332.0C165.7 329.5 169.2 328.2 172.0 327.0C174.8 325.8 176.7 324.3 180.0 324.5C183.3 324.7 188.1 327.3 192.0 328.0C195.9 328.7 200.2 329.4 203.4 328.7C206.6 328.0 208.9 325.8 211.0 324.0C213.1 322.2 213.2 319.2 216.0 318.0C218.8 316.8 224.1 317.7 228.0 317.0C231.9 316.3 236.6 315.1 239.6 313.8C242.6 312.5 243.9 310.4 246.0 309.0C248.1 307.6 249.3 306.7 252.0 305.5C254.7 304.3 260.3 302.6 262.0 302.0" fill="none" stroke="#73262A" stroke-width="2.8" stroke-linecap="round" stroke-linejoin="round" opacity="1"/>
<path d="M163.0 332.0C161.2 331.7 155.6 330.7 152.0 330.0C148.4 329.3 144.9 329.2 141.7 327.7C138.5 326.2 135.3 323.3 133.0 321.0C130.7 318.7 129.4 316.1 127.9 313.8C126.4 311.5 124.9 309.1 124.0 307.0C123.1 304.9 123.0 303.5 122.5 301.0C122.0 298.5 121.2 293.5 121.0 292.0" fill="none" stroke="#73262A" stroke-width="2.4" stroke-linecap="round" stroke-linejoin="round" opacity="1"/>
<path d="M128.5 314.0C129.1 312.5 130.9 307.8 132.0 305.0C133.1 302.2 134.3 299.8 135.0 297.0C135.7 294.2 135.8 289.5 136.0 288.0" fill="none" stroke="#73262A" stroke-width="1.8" stroke-linecap="round" stroke-linejoin="round" opacity="1"/>
<path d="M132.0 305.0C133.2 304.7 136.7 303.2 139.0 303.0C141.3 302.8 144.8 303.8 146.0 304.0" fill="none" stroke="#73262A" stroke-width="1.5" stroke-linecap="round" stroke-linejoin="round" opacity="1"/>
<path d="M180.0 324.5C180.7 322.7 183.0 317.1 184.0 313.8C185.0 310.6 185.6 307.8 186.0 305.0C186.4 302.2 186.3 298.2 186.4 296.8" fill="none" stroke="#73262A" stroke-width="1.9" stroke-linecap="round" stroke-linejoin="round" opacity="1"/>
<path d="M184.0 313.8C182.8 313.0 179.1 310.5 177.0 309.0C174.9 307.5 173.1 306.7 171.5 305.0C169.9 303.3 168.4 301.1 167.5 299.0C166.6 296.9 166.2 293.7 166.0 292.6" fill="none" stroke="#73262A" stroke-width="1.8" stroke-linecap="round" stroke-linejoin="round" opacity="1"/>
<path d="M172.0 305.5C170.7 306.0 166.6 307.8 164.0 308.5C161.4 309.2 157.8 309.4 156.6 309.6" fill="none" stroke="#73262A" stroke-width="1.5" stroke-linecap="round" stroke-linejoin="round" opacity="1"/>
<path d="M216.0 318.0C215.5 316.5 213.8 312.2 213.0 309.0C212.2 305.8 211.2 300.7 210.9 299.0" fill="none" stroke="#73262A" stroke-width="1.8" stroke-linecap="round" stroke-linejoin="round" opacity="1"/>
<path d="M216.0 316.5C216.5 316.1 217.9 314.4 219.0 314.0C220.1 313.6 222.0 313.8 222.6 313.8" fill="none" stroke="#73262A" stroke-width="1.5" stroke-linecap="round" stroke-linejoin="round" opacity="1"/>
<path d="M239.6 313.8C239.3 312.2 239.1 307.2 238.0 304.0C236.9 300.8 234.8 297.4 233.0 294.7C231.2 292.0 229.1 289.9 227.0 288.0C224.9 286.1 221.5 283.8 220.4 283.0" fill="none" stroke="#73262A" stroke-width="1.9" stroke-linecap="round" stroke-linejoin="round" opacity="1"/>
<path d="M262.0 302.0C260.5 302.2 255.9 303.3 253.0 303.5C250.1 303.7 247.1 304.2 244.4 303.0C241.7 301.8 239.3 298.2 237.0 296.0C234.7 293.8 232.4 291.7 230.4 290.0C228.4 288.3 226.7 287.2 225.0 286.0C223.3 284.8 220.8 283.5 220.0 283.0" fill="none" stroke="#73262A" stroke-width="2.0" stroke-linecap="round" stroke-linejoin="round" opacity="1"/>
<path d="M242.0 301.0C241.6 299.2 240.6 293.2 239.8 290.0C239.0 286.8 237.8 284.5 237.0 282.0C236.2 279.5 235.3 276.2 235.0 275.0" fill="none" stroke="#73262A" stroke-width="1.8" stroke-linecap="round" stroke-linejoin="round" opacity="1"/>
<path d="M250.0 305.0C249.0 305.7 245.9 307.8 244.0 309.0C242.1 310.2 239.5 311.9 238.6 312.5" fill="none" stroke="#73262A" stroke-width="1.5" stroke-linecap="round" stroke-linejoin="round" opacity="1"/>
<path d="M258.5 256.4C257.2 256.7 253.3 256.8 251.0 258.0C248.7 259.2 245.5 262.5 244.4 263.4" fill="none" stroke="#73262A" stroke-width="1.6" stroke-linecap="round" stroke-linejoin="round" opacity="1"/>
<path d="M211.7 298.5C211.8 300.1 211.8 304.9 212.0 308.0C212.2 311.1 213.7 314.3 212.9 317.0C212.1 319.7 209.2 322.0 207.0 324.0C204.8 326.0 201.2 328.2 200.0 329.0" fill="none" stroke="#73262A" stroke-width="1.6" stroke-linecap="round" stroke-linejoin="round" opacity="1"/>
<path d="M121.0 292.0C119.5 291.7 114.8 291.3 112.0 290.0C109.2 288.7 106.3 286.3 104.0 284.0C101.7 281.7 99.0 277.3 98.0 276.0" fill="none" stroke="#73262A" stroke-width="1.8" stroke-linecap="round" stroke-linejoin="round" opacity="1"/>
<path d="M185.9 204.5C185.8 205.2 184.7 205.7 184.3 206.4C183.9 207.2 184.1 208.3 183.5 208.8C183.0 209.3 181.8 209.0 181.1 209.3C180.3 209.6 179.6 210.6 178.9 210.6C178.2 210.7 177.5 209.7 176.7 209.5C175.9 209.2 174.8 209.5 174.2 209.1C173.6 208.6 173.7 207.5 173.3 206.8C172.8 206.1 171.8 205.6 171.6 204.9C171.5 204.1 172.3 203.3 172.4 202.5C172.5 201.7 172.0 200.6 172.3 200.0C172.7 199.3 173.8 199.2 174.5 198.6C175.1 198.1 175.4 196.9 176.0 196.7C176.7 196.4 177.7 197.0 178.5 197.0C179.3 197.0 180.3 196.3 181.0 196.5C181.7 196.8 182.0 197.9 182.7 198.4C183.3 198.9 184.5 199.0 184.9 199.6C185.2 200.2 184.8 201.3 185.0 202.1C185.1 202.9 186.0 203.7 185.9 204.5Z" fill="#38932F" stroke="#2C7B27" stroke-width="0.7"/><circle cx="178.7" cy="203.4" r="5.7" fill="none" stroke="#2A7826" stroke-width="0.7" stroke-dasharray="0.9 1.3" opacity="0.8"/><circle cx="178.7" cy="203.4" r="4.2" fill="url(#gold)"/>
<path d="M202.1 220.7C201.7 221.3 200.5 221.3 199.8 221.8C199.2 222.3 198.8 223.4 198.1 223.6C197.4 223.8 196.5 223.1 195.6 223.1C194.8 223.0 193.8 223.6 193.1 223.4C192.5 223.1 192.2 221.9 191.6 221.4C191.0 220.8 189.9 220.6 189.5 220.0C189.2 219.3 189.8 218.3 189.7 217.4C189.6 216.6 188.8 215.7 189.0 215.0C189.1 214.3 190.2 213.9 190.7 213.2C191.1 212.5 191.1 211.3 191.7 210.9C192.3 210.5 193.4 210.8 194.2 210.6C195.0 210.3 195.7 209.4 196.4 209.5C197.1 209.5 197.8 210.5 198.5 210.8C199.3 211.2 200.4 210.9 201.0 211.4C201.5 211.9 201.3 213.1 201.7 213.8C202.1 214.6 203.1 215.1 203.2 215.9C203.3 216.6 202.4 217.4 202.2 218.2C202.0 219.0 202.5 220.1 202.1 220.7Z" fill="#38932F" stroke="#2C7B27" stroke-width="0.7"/><circle cx="196.0" cy="216.7" r="5.7" fill="none" stroke="#2A7826" stroke-width="0.7" stroke-dasharray="0.9 1.3" opacity="0.8"/><circle cx="196.0" cy="216.7" r="4.2" fill="url(#gold)"/>
<path d="M154.7 229.8C154.6 230.5 153.5 231.0 153.1 231.7C152.7 232.5 152.8 233.6 152.3 234.1C151.8 234.6 150.6 234.3 149.8 234.6C149.1 234.9 148.4 235.9 147.7 235.9C147.0 236.0 146.3 235.0 145.5 234.8C144.7 234.5 143.6 234.8 143.0 234.4C142.4 233.9 142.5 232.7 142.1 232.0C141.6 231.3 140.5 230.9 140.4 230.1C140.3 229.4 141.1 228.6 141.2 227.8C141.3 226.9 140.8 225.9 141.1 225.2C141.5 224.6 142.6 224.5 143.3 223.9C143.9 223.4 144.2 222.2 144.8 222.0C145.5 221.7 146.5 222.3 147.3 222.3C148.2 222.3 149.1 221.6 149.8 221.8C150.5 222.1 150.8 223.2 151.5 223.7C152.1 224.2 153.3 224.3 153.7 224.9C154.1 225.5 153.6 226.6 153.8 227.4C153.9 228.2 154.8 229.0 154.7 229.8Z" fill="#38932F" stroke="#2C7B27" stroke-width="0.7"/><circle cx="147.5" cy="228.7" r="5.7" fill="none" stroke="#2A7826" stroke-width="0.7" stroke-dasharray="0.9 1.3" opacity="0.8"/><circle cx="147.5" cy="228.7" r="4.2" fill="url(#gold)"/>
<path d="M182.0 238.6C181.4 239.0 180.3 238.6 179.5 238.8C178.7 239.0 178.0 239.9 177.2 239.8C176.5 239.7 175.9 238.7 175.2 238.3C174.4 238.0 173.3 238.1 172.8 237.6C172.3 237.1 172.5 235.9 172.2 235.2C171.8 234.4 170.8 233.8 170.8 233.1C170.7 232.4 171.6 231.6 171.9 230.8C172.1 230.0 171.7 228.9 172.1 228.3C172.6 227.7 173.8 227.8 174.4 227.3C175.1 226.8 175.6 225.7 176.3 225.6C177.0 225.4 177.9 226.2 178.7 226.2C179.5 226.3 180.5 225.8 181.2 226.1C181.8 226.4 182.0 227.6 182.6 228.2C183.2 228.8 184.3 229.0 184.6 229.7C184.9 230.3 184.3 231.3 184.4 232.2C184.4 233.0 185.2 233.9 185.0 234.6C184.8 235.3 183.6 235.7 183.2 236.4C182.7 237.0 182.6 238.2 182.0 238.6Z" fill="#38932F" stroke="#2C7B27" stroke-width="0.7"/><circle cx="178.0" cy="232.6" r="5.7" fill="none" stroke="#2A7826" stroke-width="0.7" stroke-dasharray="0.9 1.3" opacity="0.8"/><circle cx="178.0" cy="232.6" r="4.2" fill="url(#gold)"/>
<path d="M163.4 254.9C162.8 255.4 161.7 255.0 160.9 255.2C160.1 255.4 159.3 256.3 158.6 256.2C157.8 256.2 157.2 255.1 156.5 254.8C155.8 254.4 154.6 254.6 154.1 254.1C153.6 253.6 153.8 252.4 153.4 251.7C153.1 251.0 152.0 250.4 152.0 249.6C151.9 248.9 152.8 248.1 153.0 247.3C153.2 246.5 152.8 245.4 153.3 244.8C153.7 244.2 154.9 244.2 155.5 243.8C156.2 243.3 156.6 242.2 157.3 242.0C158.0 241.8 158.9 242.6 159.8 242.6C160.6 242.7 161.6 242.1 162.3 242.4C162.9 242.7 163.1 243.9 163.7 244.5C164.3 245.1 165.5 245.3 165.8 245.9C166.1 246.6 165.5 247.6 165.6 248.4C165.6 249.3 166.4 250.2 166.2 250.9C166.0 251.6 164.9 252.0 164.4 252.7C164.0 253.3 164.0 254.5 163.4 254.9Z" fill="#38932F" stroke="#2C7B27" stroke-width="0.7"/><circle cx="159.2" cy="249.0" r="5.7" fill="none" stroke="#2A7826" stroke-width="0.7" stroke-dasharray="0.9 1.3" opacity="0.8"/><circle cx="159.2" cy="249.0" r="4.2" fill="url(#gold)"/>
<path d="M202.4 251.8C201.9 252.2 200.7 251.9 200.0 252.2C199.2 252.5 198.5 253.4 197.8 253.4C197.0 253.4 196.4 252.5 195.6 252.2C194.8 251.9 193.7 252.2 193.1 251.7C192.6 251.3 192.7 250.1 192.2 249.4C191.8 248.6 190.8 248.1 190.7 247.4C190.5 246.7 191.4 245.9 191.5 245.1C191.7 244.2 191.2 243.2 191.5 242.5C191.9 241.9 193.1 241.8 193.7 241.3C194.4 240.8 194.7 239.6 195.4 239.4C196.0 239.1 197.0 239.8 197.8 239.8C198.7 239.8 199.6 239.2 200.3 239.4C201.0 239.7 201.3 240.8 201.9 241.3C202.6 241.9 203.7 242.0 204.1 242.6C204.5 243.2 204.0 244.3 204.1 245.1C204.2 245.9 205.1 246.8 204.9 247.5C204.8 248.2 203.7 248.7 203.3 249.4C202.9 250.1 203.0 251.3 202.4 251.8Z" fill="#38932F" stroke="#2C7B27" stroke-width="0.7"/><circle cx="197.8" cy="246.2" r="5.7" fill="none" stroke="#2A7826" stroke-width="0.7" stroke-dasharray="0.9 1.3" opacity="0.8"/><circle cx="197.8" cy="246.2" r="4.2" fill="url(#gold)"/>
<path d="M246.5 202.7C246.0 203.3 244.8 203.2 244.1 203.6C243.4 204.0 242.9 205.0 242.2 205.1C241.4 205.3 240.6 204.4 239.8 204.3C239.0 204.1 237.9 204.6 237.3 204.2C236.7 203.9 236.6 202.7 236.1 202.0C235.5 201.4 234.4 201.1 234.2 200.4C233.9 199.7 234.6 198.7 234.6 197.9C234.6 197.1 234.0 196.1 234.2 195.4C234.5 194.8 235.6 194.5 236.2 193.8C236.7 193.2 236.8 192.0 237.5 191.7C238.1 191.3 239.2 191.8 240.0 191.7C240.8 191.6 241.6 190.7 242.3 190.9C243.1 191.0 243.6 192.1 244.3 192.5C245.0 192.9 246.1 192.9 246.6 193.4C247.1 194.0 246.8 195.1 247.0 195.9C247.3 196.7 248.3 197.4 248.2 198.1C248.2 198.8 247.3 199.5 247.0 200.3C246.7 201.0 247.0 202.2 246.5 202.7Z" fill="#38932F" stroke="#2C7B27" stroke-width="0.7"/><circle cx="241.0" cy="198.0" r="5.7" fill="none" stroke="#2A7826" stroke-width="0.7" stroke-dasharray="0.9 1.3" opacity="0.8"/><circle cx="241.0" cy="198.0" r="4.2" fill="url(#gold)"/>
<path d="M127.5 206.8C127.3 207.5 126.3 207.9 125.8 208.6C125.3 209.3 125.3 210.4 124.7 210.9C124.2 211.3 123.0 210.9 122.2 211.1C121.5 211.4 120.7 212.3 120.0 212.2C119.3 212.2 118.6 211.2 117.9 210.8C117.1 210.5 116.0 210.7 115.5 210.2C114.9 209.7 115.1 208.5 114.8 207.8C114.4 207.0 113.4 206.5 113.3 205.7C113.2 205.0 114.1 204.2 114.3 203.4C114.5 202.6 114.1 201.5 114.5 200.9C114.9 200.3 116.1 200.3 116.8 199.8C117.4 199.3 117.8 198.2 118.5 198.0C119.2 197.8 120.1 198.6 121.0 198.6C121.8 198.7 122.8 198.1 123.5 198.4C124.1 198.7 124.4 199.8 124.9 200.4C125.5 201.0 126.7 201.2 127.0 201.8C127.3 202.5 126.8 203.5 126.9 204.3C126.9 205.2 127.7 206.1 127.5 206.8Z" fill="#38932F" stroke="#2C7B27" stroke-width="0.7"/><circle cx="120.5" cy="205.0" r="5.7" fill="none" stroke="#2A7826" stroke-width="0.7" stroke-dasharray="0.9 1.3" opacity="0.8"/><circle cx="120.5" cy="205.0" r="4.2" fill="url(#gold)"/>
<path d="M198.8 296.9C198.7 297.7 197.7 298.2 197.3 298.9C196.9 299.7 197.0 300.8 196.5 301.3C196.0 301.8 194.8 301.6 194.0 301.9C193.3 302.2 192.6 303.2 191.9 303.2C191.2 303.3 190.5 302.3 189.7 302.1C188.9 301.8 187.8 302.2 187.2 301.7C186.6 301.3 186.7 300.1 186.2 299.4C185.8 298.7 184.7 298.3 184.5 297.6C184.4 296.9 185.2 296.0 185.3 295.2C185.4 294.3 184.8 293.3 185.2 292.7C185.5 292.0 186.7 291.8 187.3 291.3C187.9 290.7 188.2 289.6 188.8 289.3C189.5 289.0 190.5 289.7 191.3 289.6C192.1 289.6 193.1 288.9 193.8 289.1C194.5 289.3 194.8 290.4 195.5 290.9C196.1 291.4 197.3 291.5 197.7 292.1C198.1 292.7 197.7 293.8 197.8 294.6C198.0 295.4 198.9 296.2 198.8 296.9Z" fill="#38932F" stroke="#2C7B27" stroke-width="0.7"/><circle cx="191.6" cy="296.0" r="5.7" fill="none" stroke="#2A7826" stroke-width="0.7" stroke-dasharray="0.9 1.3" opacity="0.8"/><circle cx="191.6" cy="296.0" r="4.2" fill="url(#gold)"/>
<circle cx="167.4" cy="217.4" r="7.2" fill="#D6CDCD" fill-opacity="0.42"/><circle cx="167.4" cy="217.4" r="6.0" fill="#9C9A9F" fill-opacity="0.55"/><ellipse cx="164.5" cy="217.3" rx="2.9" ry="1.4" fill="#DDDADB" opacity="0.55" transform="rotate(50 164.5 217.3)"/><ellipse cx="165.3" cy="213.2" rx="2.1" ry="1.5" fill="#fff" opacity="0.95" transform="rotate(-25 165.3 213.2)"/><circle cx="168.5" cy="222.3" r="0.6" fill="#fff" opacity="0.95"/><text x="168.3" y="220.0" font-size="8.5" font-weight="bold" fill="#0c0c0c" text-anchor="middle">O<tspan font-size="5.3" dy="2.0">2</tspan></text>
<circle cx="201.0" cy="229.0" r="10.8" fill="#D6CDCD" fill-opacity="0.42"/><circle cx="201.0" cy="229.0" r="8.9" fill="#9C9A9F" fill-opacity="0.55"/><ellipse cx="196.6" cy="228.8" rx="4.4" ry="2.1" fill="#DDDADB" opacity="0.55" transform="rotate(50 196.6 228.8)"/><ellipse cx="197.8" cy="222.7" rx="3.1" ry="2.2" fill="#fff" opacity="0.95" transform="rotate(-25 197.8 222.7)"/><circle cx="202.6" cy="236.3" r="0.9" fill="#fff" opacity="0.95"/><text x="202.4" y="233.0" font-size="12.8" font-weight="bold" fill="#0c0c0c" text-anchor="middle">O<tspan font-size="7.9" dy="2.9">2</tspan></text>
<circle cx="180.0" cy="261.4" r="10.8" fill="#D6CDCD" fill-opacity="0.42"/><circle cx="180.0" cy="261.4" r="8.9" fill="#9C9A9F" fill-opacity="0.55"/><ellipse cx="175.6" cy="261.2" rx="4.4" ry="2.1" fill="#DDDADB" opacity="0.55" transform="rotate(50 175.6 261.2)"/><ellipse cx="176.8" cy="255.1" rx="3.1" ry="2.2" fill="#fff" opacity="0.95" transform="rotate(-25 176.8 255.1)"/><circle cx="181.6" cy="268.8" r="0.9" fill="#fff" opacity="0.95"/><text x="181.4" y="265.4" font-size="12.8" font-weight="bold" fill="#0c0c0c" text-anchor="middle">O<tspan font-size="7.9" dy="2.9">2</tspan></text>
<circle cx="228.0" cy="254.4" r="14.9" fill="#D6CDCD" fill-opacity="0.42"/><circle cx="228.0" cy="254.4" r="12.3" fill="#9C9A9F" fill-opacity="0.55"/><ellipse cx="221.9" cy="254.1" rx="6.1" ry="2.9" fill="#DDDADB" opacity="0.55" transform="rotate(50 221.9 254.1)"/><ellipse cx="223.7" cy="245.7" rx="4.3" ry="3.0" fill="#fff" opacity="0.95" transform="rotate(-25 223.7 245.7)"/><circle cx="230.2" cy="264.6" r="1.2" fill="#fff" opacity="0.95"/><text x="229.9" y="259.9" font-size="17.7" font-weight="bold" fill="#0c0c0c" text-anchor="middle">O<tspan font-size="11.0" dy="4.1">2</tspan></text>
<circle cx="139.0" cy="276.0" r="14.9" fill="#D6CDCD" fill-opacity="0.42"/><circle cx="139.0" cy="276.0" r="12.3" fill="#9C9A9F" fill-opacity="0.55"/><ellipse cx="132.9" cy="275.7" rx="6.1" ry="2.9" fill="#DDDADB" opacity="0.55" transform="rotate(50 132.9 275.7)"/><ellipse cx="134.7" cy="267.3" rx="4.3" ry="3.0" fill="#fff" opacity="0.95" transform="rotate(-25 134.7 267.3)"/><circle cx="141.2" cy="286.1" r="1.2" fill="#fff" opacity="0.95"/><text x="140.9" y="281.5" font-size="17.7" font-weight="bold" fill="#0c0c0c" text-anchor="middle">O<tspan font-size="11.0" dy="4.1">2</tspan></text>
<circle cx="169.4" cy="175.0" r="15.1" fill="#D6CDCD" fill-opacity="0.42"/><circle cx="169.4" cy="175.0" r="12.5" fill="#9C9A9F" fill-opacity="0.55"/><ellipse cx="163.2" cy="174.7" rx="6.2" ry="2.9" fill="#DDDADB" opacity="0.55" transform="rotate(50 163.2 174.7)"/><ellipse cx="165.0" cy="166.2" rx="4.4" ry="3.1" fill="#fff" opacity="0.95" transform="rotate(-25 165.0 166.2)"/><circle cx="171.6" cy="185.3" r="1.2" fill="#fff" opacity="0.95"/><text x="171.3" y="180.6" font-size="17.9" font-weight="bold" fill="#0c0c0c" text-anchor="middle">O<tspan font-size="11.1" dy="4.1">2</tspan></text>
<g clip-path="url(#tubeClip)">
<rect x="0" y="120" width="70" height="110" fill="#9C474A"/>
<path d="M30.8 124.0C30.6 127.5 30.0 138.8 29.5 145.0C29.0 151.2 29.0 154.9 27.7 161.0C26.4 167.1 23.7 175.0 21.5 181.5C19.3 188.0 16.4 194.2 14.4 200.0C12.3 205.8 10.0 212.4 9.2 216.4C8.4 220.4 9.4 222.7 9.5 224.0" stroke="#8A3739" stroke-width="5" fill="none"/>
<path d="M44.3 124.0C44.1 127.5 43.5 138.8 43.0 145.0C42.5 151.2 42.5 154.9 41.2 161.0C39.9 167.1 37.2 175.0 35.0 181.5C32.8 188.0 29.9 194.2 27.9 200.0C25.8 205.8 23.5 212.4 22.7 216.4C21.9 220.4 22.9 222.7 23.0 224.0" stroke="#A44D50" stroke-width="9" fill="none"/>
<path d="M56.4 124.0C56.8 127.5 58.0 138.8 58.5 145.0C59.0 151.2 59.6 154.9 59.5 161.0C59.4 167.1 58.9 175.0 58.0 181.5C57.1 188.0 55.5 194.5 54.4 200.0C53.3 205.5 51.7 210.4 51.3 214.4C50.9 218.4 51.9 222.4 52.0 224.0" stroke="#97403F" stroke-width="13" fill="none"/>
<path d="M56.4 124.0C56.8 127.5 58.0 138.8 58.5 145.0C59.0 151.2 59.6 154.9 59.5 161.0C59.4 167.1 58.9 175.0 58.0 181.5C57.1 188.0 55.5 194.5 54.4 200.0C53.3 205.5 51.7 210.4 51.3 214.4C50.9 218.4 51.9 222.4 52.0 224.0" stroke="#8A3537" stroke-width="3" fill="none"/>
<path d="M48.4 124.0C48.8 127.5 50.0 138.8 50.5 145.0C51.0 151.2 51.6 154.9 51.5 161.0C51.4 167.1 50.9 175.0 50.0 181.5C49.1 188.0 47.5 194.5 46.4 200.0C45.3 205.5 43.7 210.4 43.3 214.4C42.9 218.4 43.9 222.4 44.0 224.0" stroke="#CE727A" stroke-width="4" fill="none"/>
<path d="M47.8 124.0C48.1 127.5 49.4 138.8 49.9 145.0C50.4 151.2 51.0 154.9 50.9 161.0C50.8 167.1 50.2 175.0 49.4 181.5C48.5 188.0 46.9 194.5 45.8 200.0C44.7 205.5 43.1 210.4 42.7 214.4C42.3 218.4 43.3 222.4 43.4 224.0" stroke="#DA8A90" stroke-width="1.2" fill="none"/>
<rect x="0" y="120" width="70" height="30" fill="url(#fadeTop)"/>
</g>
<g clip-path="url(#vesClip)">
<rect x="0" y="200" width="170" height="230" fill="#A9494E"/>
<path d="M9.2 216.4C9.3 218.3 9.5 223.9 9.8 228.0C10.2 232.1 11.1 238.8 11.3 241.0" stroke="#8E3A3C" stroke-width="12" fill="none"/>
<path d="M10.2 229.0C10.4 231.0 9.9 235.6 11.3 241.0C12.7 246.4 15.9 255.0 18.5 261.5C21.1 268.0 22.9 272.5 26.7 280.0C30.4 287.5 36.9 297.8 41.0 306.7C45.1 315.6 48.6 324.8 51.3 333.3C54.0 341.9 55.8 351.8 57.4 358.0C59.0 364.2 59.6 364.3 61.0 370.5C62.4 376.7 62.6 387.8 66.0 395.0C69.4 402.2 74.5 408.8 81.5 413.6C88.5 418.4 103.6 422.3 108.0 424.0" stroke="#CB6971" stroke-width="11.5" fill="none" stroke-linecap="round"/>
<path d="M66.0 395.0C68.6 398.1 74.5 408.8 81.5 413.6C88.5 418.4 98.1 423.7 108.0 424.0C117.9 424.3 133.3 420.4 141.0 415.6C148.7 410.8 152.2 398.4 154.4 395.0" stroke="#B45C5F" stroke-width="20" fill="none"/>
<path d="M66.0 395.0C68.6 398.1 74.5 408.8 81.5 413.6C88.5 418.4 98.1 423.7 108.0 424.0C117.9 424.3 133.3 420.4 141.0 415.6C148.7 410.8 152.2 398.4 154.4 395.0" stroke="#C9656D" stroke-width="4" fill="none" opacity="0.0"/>
<path d="M154.4 395.0C154.8 391.9 157.5 382.7 157.0 376.7C156.5 370.7 153.1 363.5 151.5 359.0C149.9 354.5 150.7 355.4 147.7 349.7C144.7 344.0 138.8 333.2 133.3 325.0C127.8 316.8 121.1 308.0 114.9 300.5C108.8 293.0 102.6 286.1 96.4 280.0C90.2 273.9 83.5 269.1 78.0 263.6C72.5 258.1 67.5 252.5 63.6 247.0C59.7 241.5 56.5 236.2 54.4 230.8C52.3 225.4 51.8 217.1 51.3 214.4" stroke="#7A2E30" stroke-width="17" fill="none"/>
<path d="M157.0 376.7C156.1 373.8 153.1 363.5 151.5 359.0C149.9 354.5 150.7 355.4 147.7 349.7C144.7 344.0 138.8 333.2 133.3 325.0C127.8 316.8 121.1 308.0 114.9 300.5C108.8 293.0 102.6 286.1 96.4 280.0C90.2 273.9 83.5 269.1 78.0 263.6C72.5 258.1 67.5 252.5 63.6 247.0C59.7 241.5 56.5 236.2 54.4 230.8C52.3 225.4 51.8 217.1 51.3 214.4" stroke="#C8686D" stroke-width="11" fill="none"/>
<path d="M141.0 415.6C143.2 412.2 151.7 401.5 154.4 395.0C157.1 388.5 156.6 379.8 157.0 376.7" stroke="#B45C5F" stroke-width="11" fill="none"/>
<path d="M51.3 214.4C50.1 213.3 47.5 209.4 44.0 207.8C40.5 206.2 35.0 204.9 30.5 205.0C26.0 205.1 20.6 206.7 17.0 208.6C13.4 210.5 10.5 215.1 9.2 216.4" stroke="#A04A4C" stroke-width="19" fill="none"/>
<path d="M51.3 214.4C50.1 213.3 47.5 209.4 44.0 207.8C40.5 206.2 35.0 204.9 30.5 205.0C26.0 205.1 20.6 206.7 17.0 208.6C13.4 210.5 10.5 215.1 9.2 216.4" stroke="#7C3335" stroke-width="11" fill="none"/>
</g>
<g clip-path="url(#lumClip)">
<rect x="0" y="200" width="170" height="230" fill="#8D3D3F"/>
<path d="M17.0 225.0C15.3 228.7 18.4 229.3 20.0 232.0C21.6 234.7 24.4 236.3 26.7 241.0C29.0 245.7 31.1 253.5 34.0 260.0C36.9 266.5 39.8 272.2 44.0 280.0C48.2 287.8 55.4 297.9 59.5 306.7C63.6 315.5 66.5 324.4 68.7 333.0C70.9 341.6 71.7 350.0 72.8 358.0C73.9 366.0 73.6 373.6 75.4 380.8C77.2 388.0 79.2 395.8 83.6 401.3C88.0 406.8 95.6 410.5 102.0 413.6C108.4 416.7 118.9 420.0 122.0 420.0C125.1 420.0 122.5 420.1 120.5 413.6C118.5 407.1 114.0 389.7 110.0 380.8C106.0 371.9 101.1 370.0 96.4 360.0C91.7 350.0 88.2 334.3 82.0 321.0C75.8 307.7 65.7 291.8 59.5 280.0C53.3 268.2 48.6 259.2 45.0 250.0C41.4 240.8 40.5 231.7 38.0 225.0C35.5 218.3 33.5 210.0 30.0 210.0C26.5 210.0 18.7 221.3 17.0 225.0Z" fill="#A0494D"/>
<path d="M45.6 221.5C44.8 220.8 43.4 218.4 41.0 217.3C38.6 216.2 34.3 215.0 31.0 215.2C27.7 215.3 23.3 216.6 21.0 218.2C18.7 219.8 17.7 223.9 17.0 225.0" stroke="#6F2A2C" stroke-width="3" fill="none" opacity="0.35"/>
</g>
<path d="M17.0 225.0C17.5 226.2 18.4 229.3 20.0 232.0C21.6 234.7 24.4 236.3 26.7 241.0C29.0 245.7 31.1 253.5 34.0 260.0C36.9 266.5 39.8 272.2 44.0 280.0C48.2 287.8 55.4 297.9 59.5 306.7C63.6 315.5 66.5 324.4 68.7 333.0C70.9 341.6 71.7 350.0 72.8 358.0C73.9 366.0 73.6 373.6 75.4 380.8C77.2 388.0 79.2 395.8 83.6 401.3C88.0 406.8 96.2 411.2 102.0 413.6C107.8 416.0 113.0 417.0 118.5 415.6C124.0 414.2 130.7 410.5 134.9 405.4C139.2 400.3 143.0 392.6 144.0 385.0C145.0 377.4 142.2 366.2 141.0 360.0C139.8 353.8 138.9 353.0 136.5 348.0C134.1 343.0 131.2 336.9 126.5 330.0C121.8 323.1 114.6 313.7 108.5 306.3C102.4 298.9 96.1 292.1 90.0 285.8C83.9 279.6 77.4 274.5 72.0 268.8C66.6 263.1 61.4 257.1 57.4 251.4C53.4 245.7 50.2 239.4 48.2 234.4C46.2 229.4 46.0 223.7 45.6 221.5C44.8 220.8 43.4 218.4 41.0 217.3C38.6 216.2 34.3 215.0 31.0 215.2C27.7 215.3 23.3 216.6 21.0 218.2C18.7 219.8 17.7 223.9 17.0 225.0Z" fill="none" stroke="#7A2E30" stroke-width="0.8" opacity="0.7"/>
<path d="M9.2 216.4C9.3 218.3 9.5 223.9 9.8 228.0C10.2 232.1 9.9 235.4 11.3 241.0C12.8 246.6 15.9 255.0 18.5 261.5C21.1 268.0 22.9 272.5 26.7 280.0C30.4 287.5 36.9 297.8 41.0 306.7C45.1 315.6 48.6 324.8 51.3 333.3C54.0 341.9 55.8 351.8 57.4 358.0C59.0 364.2 59.6 364.3 61.0 370.5C62.4 376.7 62.6 387.8 66.0 395.0C69.4 402.2 74.5 408.8 81.5 413.6C88.5 418.4 98.1 423.7 108.0 424.0C117.9 424.3 133.3 420.4 141.0 415.6C148.7 410.8 151.7 401.5 154.4 395.0C157.1 388.5 157.5 382.7 157.0 376.7C156.5 370.7 153.1 363.5 151.5 359.0C149.9 354.5 150.7 355.4 147.7 349.7C144.7 344.0 138.8 333.2 133.3 325.0C127.8 316.8 121.1 308.0 114.9 300.5C108.8 293.0 102.6 286.1 96.4 280.0C90.2 273.9 83.5 269.1 78.0 263.6C72.5 258.1 67.5 252.5 63.6 247.0C59.7 241.5 56.5 236.2 54.4 230.8C52.3 225.4 51.8 217.1 51.3 214.4C50.1 213.3 47.5 209.4 44.0 207.8C40.5 206.2 35.0 204.9 30.5 205.0C26.0 205.1 20.6 206.7 17.0 208.6C13.4 210.5 10.5 215.1 9.2 216.4Z" fill="none" stroke="#8A3336" stroke-width="1"/>
<path d="M51.3 214.4C50.1 213.3 47.5 209.4 44.0 207.8C40.5 206.2 35.0 204.9 30.5 205.0C26.0 205.1 20.6 206.7 17.0 208.6C13.4 210.5 10.5 215.1 9.2 216.4" fill="none" stroke="#C77A7E" stroke-width="1.1"/>
<g transform="rotate(-6 32.8 248.2)"><ellipse cx="32.8" cy="248.2" rx="7.8" ry="3.3" fill="#C63E50"/><ellipse cx="32.3" cy="248.3" rx="3.8" ry="1.3" fill="#962434"/></g>
<circle cx="40" cy="264.2" r="1.5" fill="#5C9A34"/>
<path d="M52.8 278.9C52.7 279.3 52.2 279.7 52.0 280.1C51.8 280.5 51.9 281.1 51.6 281.4C51.3 281.7 50.7 281.6 50.3 281.8C49.9 282.0 49.5 282.5 49.1 282.6C48.7 282.6 48.3 282.1 47.9 282.0C47.5 281.9 46.8 282.1 46.5 281.9C46.2 281.6 46.2 281.0 45.9 280.6C45.7 280.2 45.1 280.0 45.0 279.6C44.9 279.2 45.3 278.7 45.3 278.3C45.3 277.8 45.0 277.3 45.2 276.9C45.4 276.6 46.0 276.4 46.3 276.1C46.6 275.8 46.8 275.2 47.1 275.0C47.5 274.8 48.0 275.1 48.5 275.1C48.9 275.1 49.4 274.7 49.8 274.8C50.2 274.9 50.4 275.5 50.8 275.7C51.2 276.0 51.8 276.0 52.1 276.3C52.3 276.6 52.1 277.3 52.2 277.7C52.3 278.1 52.8 278.5 52.8 278.9Z" fill="#38932F" stroke="#2C7B27" stroke-width="0.7"/><circle cx="48.8" cy="278.6" r="3.1" fill="none" stroke="#2A7826" stroke-width="0.7" stroke-dasharray="0.9 1.3" opacity="0.8"/><circle cx="48.8" cy="278.6" r="2.3" fill="url(#gold)"/>
<g transform="translate(70.8 306.7) rotate(10.0)"><ellipse cx="0" cy="0" rx="9.2" ry="7.6" fill="#A93140"/><ellipse cx="-0.2" cy="-0.4" rx="8.7" ry="7.1" fill="#BA3B4B"/><path d="M-7.5 -2.3 Q-5.5 -6.6 -0.9 -7.4" fill="none" stroke="#D15E6E" stroke-width="0.6" stroke-linecap="round"/><path d="M1.1 -5.3 C-5.1 -6.4 -7.8 2.3 -0.6 3.3 C-2.8 0.5 -1.8 -3.2 1.1 -5.3 Z" fill="#862830"/><path d="M4.1 -3.6 Q7.8 0.9 1.7 3.7" fill="none" stroke="#E07380" stroke-width="0.8" stroke-linecap="round"/></g>
<path d="M87.9 337.4C87.6 337.9 86.8 338.0 86.4 338.3C85.9 338.7 85.7 339.5 85.3 339.7C84.8 339.9 84.1 339.4 83.6 339.4C83.0 339.4 82.3 339.9 81.9 339.7C81.4 339.6 81.2 338.8 80.7 338.4C80.3 338.1 79.5 338.0 79.2 337.6C78.9 337.1 79.3 336.4 79.2 335.8C79.1 335.3 78.5 334.7 78.6 334.2C78.6 333.7 79.4 333.3 79.7 332.8C79.9 332.3 79.9 331.5 80.2 331.2C80.6 330.9 81.4 331.1 81.9 330.9C82.5 330.7 82.9 330.0 83.4 330.0C83.9 330.0 84.4 330.6 85.0 330.8C85.5 331.0 86.3 330.8 86.7 331.1C87.0 331.4 87.0 332.3 87.3 332.7C87.6 333.2 88.3 333.6 88.4 334.1C88.5 334.6 87.9 335.1 87.9 335.7C87.8 336.3 88.1 337.0 87.9 337.4Z" fill="#38932F" stroke="#2C7B27" stroke-width="0.7"/><circle cx="83.5" cy="335.0" r="3.9" fill="none" stroke="#2A7826" stroke-width="0.7" stroke-dasharray="0.9 1.3" opacity="0.8"/><circle cx="83.5" cy="335.0" r="2.9" fill="url(#gold)"/>
<path d="M109.9 362.6C109.9 363.3 109.0 363.8 108.7 364.5C108.4 365.2 108.6 366.2 108.2 366.7C107.8 367.2 106.7 367.0 106.1 367.4C105.4 367.7 104.9 368.6 104.3 368.7C103.6 368.8 102.9 368.0 102.2 367.8C101.5 367.7 100.5 368.0 100.0 367.7C99.5 367.3 99.4 366.3 99.0 365.7C98.5 365.1 97.5 364.8 97.4 364.2C97.2 363.6 97.8 362.7 97.8 362.0C97.9 361.3 97.3 360.4 97.6 359.8C97.8 359.2 98.9 359.0 99.4 358.4C99.9 357.9 100.0 356.9 100.6 356.6C101.2 356.3 102.1 356.8 102.8 356.7C103.5 356.6 104.3 355.9 104.9 356.0C105.6 356.2 106.0 357.1 106.6 357.5C107.2 357.9 108.2 357.9 108.6 358.4C109.0 358.9 108.7 359.9 108.9 360.6C109.1 361.3 110.0 362.0 109.9 362.6Z" fill="#38932F" stroke="#2C7B27" stroke-width="0.7"/><circle cx="103.5" cy="362.3" r="5.0" fill="none" stroke="#2A7826" stroke-width="0.7" stroke-dasharray="0.9 1.3" opacity="0.8"/><circle cx="103.5" cy="362.3" r="3.7" fill="url(#gold)"/>
<g transform="translate(115.0 395.0) rotate(0.0)"><ellipse cx="0" cy="0" rx="13.2" ry="12.1" fill="#A93140"/><ellipse cx="-0.3" cy="-0.5" rx="12.5" ry="11.2" fill="#BA3B4B"/><path d="M-10.8 -3.3 Q-7.9 -9.5 -1.3 -10.6" fill="none" stroke="#D15E6E" stroke-width="0.9" stroke-linecap="round"/><path d="M1.6 -7.7 C-7.3 -9.2 -11.2 3.3 -0.8 4.8 C-4.0 0.7 -2.6 -4.6 1.6 -7.7 Z" fill="#862830"/><path d="M5.9 -5.1 Q11.2 1.3 2.4 5.3" fill="none" stroke="#E07380" stroke-width="1.2" stroke-linecap="round"/></g>
<line x1="363.5" y1="118" x2="262.5" y2="252.5" stroke="#111" stroke-width="1.5" stroke-dasharray="8.5 5"/>
<line x1="262.8" y1="253.5" x2="362" y2="423" stroke="#111" stroke-width="1.5" stroke-dasharray="8.5 5"/>
<rect x="365" y="117" width="391" height="307" fill="#E6C9BE"/>
<g clip-path="url(#panelClip)">
<line x1="449.2" y1="180" x2="458" y2="187.5" stroke="#7E2222" stroke-width="1.4"/>
<line x1="637.6" y1="153.2" x2="627" y2="167.5" stroke="#7E2222" stroke-width="1.4"/>
<line x1="695.7" y1="206.6" x2="683" y2="216.2" stroke="#7E2222" stroke-width="1.4"/>
<line x1="496.6" y1="156.6" x2="507.5" y2="170.5" stroke="#4C2B52" stroke-width="2"/>
<path d="M497.3 179.9C497.6 178.8 498.9 177.7 499.6 176.6C500.2 175.6 500.6 174.3 501.4 173.5C502.3 172.7 503.8 172.5 504.8 171.8C505.8 171.1 507.0 170.3 507.7 169.2C508.4 168.0 508.3 165.7 509.2 164.8C510.1 164.0 511.8 164.5 513.0 164.3C514.2 164.1 515.1 163.9 516.4 163.5C517.6 163.2 519.1 162.6 520.5 162.2C522.0 161.9 523.6 161.4 525.0 161.4C526.5 161.4 527.9 162.3 529.3 162.4C530.7 162.4 532.0 162.0 533.4 161.7C534.7 161.4 536.0 160.8 537.2 160.7C538.4 160.5 539.6 161.0 540.6 160.7C541.7 160.3 542.3 159.0 543.4 158.4C544.6 157.8 546.3 156.9 547.5 157.2C548.7 157.6 550.0 159.4 550.5 160.5C551.0 161.7 550.2 163.1 550.6 164.3C550.9 165.5 552.7 166.4 552.6 167.6C552.6 168.7 550.8 169.8 550.3 171.1C549.8 172.3 550.2 174.0 549.7 175.1C549.1 176.2 548.2 176.9 547.1 177.7C546.0 178.4 543.9 178.6 543.1 179.5C542.3 180.4 542.4 182.0 542.0 183.2C541.7 184.4 541.5 185.4 541.1 186.7C540.8 188.0 540.4 189.7 540.0 191.0C539.5 192.3 539.2 193.0 538.7 194.3C538.2 195.5 537.6 197.0 536.9 198.4C536.3 199.7 535.1 200.9 534.6 202.3C534.2 203.7 534.8 205.6 534.2 206.8C533.5 208.0 531.5 208.3 530.8 209.4C530.0 210.5 530.3 212.1 529.7 213.3C529.1 214.6 527.6 215.5 527.3 216.8C527.0 218.0 527.6 219.3 527.7 220.7C527.8 222.0 528.6 223.5 528.1 224.7C527.7 225.9 525.7 226.7 524.9 228.0C524.2 229.3 523.8 231.0 523.6 232.4C523.4 233.8 524.4 235.3 523.8 236.4C523.2 237.5 521.1 238.1 520.1 238.9C519.1 239.8 518.7 241.1 517.6 241.4C516.5 241.7 514.9 240.7 513.5 240.5C512.2 240.3 510.5 240.6 509.5 240.0C508.6 239.3 508.1 237.7 507.7 236.5C507.4 235.3 507.6 234.1 507.5 232.9C507.3 231.7 506.9 230.7 506.8 229.4C506.7 228.0 506.6 226.1 506.9 224.7C507.3 223.3 508.4 222.4 508.6 221.0C508.9 219.7 508.6 218.1 508.5 216.7C508.3 215.2 507.7 213.6 507.9 212.3C508.1 210.9 509.3 209.7 509.5 208.5C509.7 207.3 509.2 206.5 509.1 205.1C509.0 203.8 509.6 201.9 509.1 200.5C508.7 199.1 507.1 198.3 506.5 197.0C505.9 195.7 505.9 194.1 505.5 192.9C505.0 191.6 504.6 190.6 503.7 189.6C502.8 188.5 501.0 187.7 500.0 186.7C499.0 185.6 498.3 184.5 497.8 183.4C497.3 182.3 497.0 181.1 497.3 179.9Z" fill="#7B67A2" stroke="#4E3C82" stroke-width="0.9"/>
<circle cx="524.9" cy="195.2" r="0.9" fill="#5C4688"/><circle cx="527.7" cy="189.5" r="0.9" fill="#5C4688"/><circle cx="542.6" cy="171.1" r="0.9" fill="#5C4688"/><circle cx="521.9" cy="220.6" r="0.9" fill="#5C4688"/><circle cx="513.2" cy="187.3" r="0.9" fill="#5C4688"/><circle cx="514.0" cy="168.8" r="0.9" fill="#5C4688"/><circle cx="513.7" cy="205.5" r="0.9" fill="#5C4688"/><circle cx="539.6" cy="185.1" r="0.9" fill="#5C4688"/><circle cx="518.3" cy="231.7" r="0.9" fill="#5C4688"/><circle cx="510.2" cy="225.6" r="0.9" fill="#5C4688"/><circle cx="510.8" cy="194.7" r="0.9" fill="#5C4688"/><circle cx="516.4" cy="186.6" r="0.9" fill="#5C4688"/><circle cx="536.4" cy="166.1" r="0.9" fill="#5C4688"/><circle cx="514.2" cy="179.8" r="0.9" fill="#5C4688"/>
<path d="M529.0 185.0C531.3 182.7 536.2 179.2 538.0 180.0C539.8 180.8 540.5 186.7 540.0 190.0C539.5 193.3 536.7 196.3 535.0 200.0C533.3 203.7 531.3 208.0 530.0 212.0C528.7 216.0 528.8 220.7 527.0 224.0C525.2 227.3 521.0 232.3 519.0 232.0C517.0 231.7 514.8 226.5 515.0 222.0C515.2 217.5 518.5 209.7 520.0 205.0C521.5 200.3 522.5 197.3 524.0 194.0C525.5 190.7 526.7 187.3 529.0 185.0Z" fill="#5F4E86"/>
<path d="M591.7 169.4C592.5 168.6 594.4 168.1 595.5 167.5C596.7 166.8 597.6 165.9 598.7 165.5C599.9 165.2 601.4 165.8 602.6 165.3C603.7 164.9 604.5 163.3 605.6 162.8C606.8 162.2 608.1 162.4 609.5 162.0C610.8 161.7 612.3 161.1 613.6 160.7C615.0 160.4 616.4 159.2 617.5 159.9C618.6 160.7 619.2 164.5 620.3 165.2C621.5 165.9 622.9 164.3 624.4 163.9C625.8 163.5 627.8 162.1 628.9 162.5C630.0 162.9 630.0 165.7 631.1 166.4C632.3 167.1 634.7 165.8 635.7 166.6C636.7 167.3 636.4 169.6 637.0 170.8C637.6 171.9 638.3 172.5 639.3 173.3C640.3 174.1 642.2 174.4 642.9 175.6C643.6 176.7 643.0 179.0 643.4 180.3C643.7 181.6 644.4 182.2 645.1 183.3C645.8 184.4 647.4 185.5 647.6 186.6C647.9 187.8 646.5 189.0 646.6 190.3C646.7 191.6 648.3 193.4 648.2 194.5C648.2 195.7 647.0 196.4 646.5 197.4C646.0 198.4 644.5 200.0 645.1 200.6C645.6 201.3 649.3 200.6 649.9 201.5C650.5 202.5 649.3 204.9 648.9 206.3C648.5 207.8 648.1 208.8 647.7 210.1C647.4 211.4 647.3 212.9 646.8 214.2C646.4 215.5 646.3 217.4 645.0 217.9C643.8 218.5 640.8 216.8 639.4 217.4C637.9 218.1 637.7 221.2 636.4 221.7C635.0 222.2 632.6 220.1 631.0 220.4C629.5 220.6 628.6 222.6 627.2 222.9C625.7 223.3 624.0 222.5 622.4 222.5C620.8 222.5 619.0 223.3 617.5 223.0C615.9 222.7 614.5 221.6 613.3 220.7C612.0 219.8 611.6 218.3 610.0 217.7C608.4 217.1 605.0 218.1 603.7 217.0C602.4 216.0 602.9 213.1 602.4 211.4C601.8 209.6 601.5 208.0 600.4 206.6C599.4 205.2 596.7 204.1 596.0 202.9C595.3 201.6 595.7 200.2 596.2 198.9C596.6 197.6 598.7 196.0 598.7 194.8C598.8 193.6 597.2 192.6 596.7 191.5C596.2 190.4 596.1 189.5 595.7 188.2C595.4 186.9 595.0 185.2 594.4 183.8C593.8 182.4 592.7 181.2 592.2 179.9C591.7 178.5 591.7 177.0 591.4 175.7C591.2 174.4 590.7 173.1 590.7 172.1C590.7 171.0 590.9 170.2 591.7 169.4Z" fill="#EF9795" stroke="#DB807F" stroke-width="0.9"/>
<circle cx="601.1" cy="191.9" r="0.9" fill="#C4686A"/><circle cx="621.3" cy="220.2" r="0.9" fill="#C4686A"/><circle cx="638.5" cy="209.6" r="0.9" fill="#C4686A"/><circle cx="631.1" cy="172.2" r="0.9" fill="#C4686A"/><circle cx="644.1" cy="188.6" r="0.9" fill="#C4686A"/><circle cx="625.6" cy="168.9" r="0.9" fill="#C4686A"/><circle cx="610.2" cy="212.7" r="0.9" fill="#C4686A"/><circle cx="600.0" cy="168.0" r="0.9" fill="#C4686A"/><circle cx="611.2" cy="183.6" r="0.9" fill="#C4686A"/><circle cx="620.5" cy="191.6" r="0.9" fill="#C4686A"/><circle cx="613.0" cy="180.9" r="0.9" fill="#C4686A"/><circle cx="623.2" cy="196.1" r="0.9" fill="#C4686A"/><circle cx="633.1" cy="189.0" r="0.9" fill="#C4686A"/><circle cx="614.5" cy="201.1" r="0.9" fill="#C4686A"/><circle cx="643.8" cy="202.1" r="0.9" fill="#C4686A"/><circle cx="609.7" cy="175.6" r="0.9" fill="#C4686A"/>
<path d="M634.5 196.5C634.5 199.8 633.8 203.5 632.5 206.3C631.2 209.1 628.9 212.4 626.7 213.2C624.5 213.9 621.8 211.8 619.5 210.7C617.2 209.6 614.7 208.7 613.1 206.3C611.5 204.0 610.1 199.9 610.0 196.5C609.8 193.1 610.8 188.2 612.4 185.9C614.0 183.6 617.2 183.6 619.6 182.7C621.9 181.8 624.4 179.9 626.5 180.6C628.7 181.3 631.1 184.1 632.4 186.8C633.8 189.4 634.5 193.2 634.5 196.5Z" fill="#C76F6E"/>
<path d="M451.1 211.0C450.8 210.3 450.0 208.8 449.6 207.6C449.2 206.5 449.1 205.4 448.9 204.1C448.7 202.8 448.5 201.3 448.3 199.8C448.1 198.4 447.6 196.9 447.6 195.5C447.6 194.1 447.4 192.3 448.3 191.4C449.2 190.5 452.0 190.8 453.1 189.9C454.2 189.1 454.3 187.5 455.0 186.3C455.7 185.2 456.3 183.8 457.3 183.0C458.3 182.3 460.2 182.8 461.1 181.9C462.0 181.0 462.1 179.0 462.9 177.9C463.7 176.8 464.9 175.8 466.1 175.2C467.3 174.5 468.8 174.6 470.0 173.8C471.1 173.1 471.7 171.0 473.0 170.7C474.2 170.3 475.9 171.6 477.2 171.7C478.6 171.9 479.7 172.0 481.0 171.7C482.3 171.4 483.9 169.9 485.2 170.0C486.5 170.1 487.6 171.7 488.8 172.3C490.0 173.0 491.2 173.5 492.5 173.9C493.7 174.4 495.4 174.1 496.4 175.0C497.4 175.8 497.5 178.4 498.5 179.1C499.6 179.8 501.5 178.9 502.9 179.2C504.2 179.5 505.0 180.7 506.5 180.9C508.0 181.1 510.7 179.6 511.8 180.4C512.9 181.2 512.7 184.2 513.1 185.7C513.5 187.2 513.5 188.4 514.2 189.5C515.0 190.6 517.0 191.2 517.4 192.4C517.8 193.6 516.7 195.4 516.7 196.7C516.6 198.0 517.0 199.1 517.2 200.3C517.4 201.5 517.2 202.7 517.9 203.9C518.6 205.2 521.1 206.5 521.5 207.8C521.8 209.2 520.7 210.6 520.2 211.9C519.7 213.2 518.9 214.3 518.6 215.6C518.3 216.9 518.7 218.3 518.4 219.5C518.1 220.7 517.6 221.9 516.8 222.9C516.1 224.0 514.6 224.5 513.9 225.6C513.2 226.7 513.1 228.2 512.7 229.5C512.4 230.7 512.6 232.4 511.7 233.2C510.8 234.1 508.8 234.0 507.4 234.5C506.0 234.9 504.4 234.9 503.2 235.9C502.0 236.9 501.4 239.5 500.1 240.3C498.7 241.1 496.7 241.2 495.2 240.7C493.8 240.2 492.7 237.7 491.3 237.5C490.0 237.2 488.5 239.3 487.1 239.4C485.6 239.5 484.0 238.4 482.5 238.0C481.0 237.6 479.7 236.3 478.1 236.8C476.5 237.3 474.4 240.7 473.0 240.8C471.6 240.9 470.7 238.2 469.7 237.2C468.7 236.1 468.5 234.7 466.9 234.5C465.4 234.3 461.8 236.8 460.4 236.0C459.1 235.3 460.1 231.1 458.9 229.9C457.7 228.8 454.1 230.2 453.2 229.2C452.2 228.2 453.3 225.6 453.1 224.1C452.8 222.6 451.9 221.5 451.5 220.2C451.2 218.9 450.9 217.5 450.9 216.2C450.9 214.8 451.3 213.1 451.3 212.2C451.3 211.4 451.4 211.8 451.1 211.0Z" fill="#EF9795" stroke="#DB807F" stroke-width="0.9"/>
<circle cx="500.3" cy="232.3" r="0.9" fill="#C4686A"/><circle cx="463.2" cy="204.9" r="0.9" fill="#C4686A"/><circle cx="487.8" cy="220.8" r="0.9" fill="#C4686A"/><circle cx="491.8" cy="208.0" r="0.9" fill="#C4686A"/><circle cx="502.0" cy="189.2" r="0.9" fill="#C4686A"/><circle cx="482.0" cy="230.8" r="0.9" fill="#C4686A"/><circle cx="499.9" cy="211.8" r="0.9" fill="#C4686A"/><circle cx="459.9" cy="205.0" r="0.9" fill="#C4686A"/><circle cx="497.3" cy="207.4" r="0.9" fill="#C4686A"/><circle cx="478.9" cy="191.3" r="0.9" fill="#C4686A"/><circle cx="500.3" cy="207.9" r="0.9" fill="#C4686A"/><circle cx="481.8" cy="173.9" r="0.9" fill="#C4686A"/><circle cx="500.1" cy="203.7" r="0.9" fill="#C4686A"/><circle cx="498.9" cy="213.5" r="0.9" fill="#C4686A"/><circle cx="458.9" cy="208.2" r="0.9" fill="#C4686A"/><circle cx="492.3" cy="184.5" r="0.9" fill="#C4686A"/><circle cx="467.9" cy="193.0" r="0.9" fill="#C4686A"/><circle cx="475.1" cy="192.4" r="0.9" fill="#C4686A"/><circle cx="483.5" cy="183.4" r="0.9" fill="#C4686A"/><circle cx="513.5" cy="228.0" r="0.9" fill="#C4686A"/><circle cx="490.8" cy="233.2" r="0.9" fill="#C4686A"/><circle cx="493.7" cy="181.5" r="0.9" fill="#C4686A"/>
<path d="M506.6 212.0C506.6 214.8 506.2 217.9 505.0 220.1C503.8 222.3 501.5 224.2 499.4 225.1C497.3 226.0 494.4 226.4 492.5 225.4C490.6 224.5 489.3 221.5 487.9 219.2C486.6 217.0 484.4 214.5 484.3 212.0C484.2 209.5 486.0 206.4 487.4 204.2C488.7 202.1 490.6 199.8 492.6 198.9C494.6 198.0 497.3 198.1 499.4 198.9C501.6 199.7 504.2 201.4 505.4 203.6C506.6 205.8 506.7 209.2 506.6 212.0Z" fill="#CF7271"/>
<path d="M536 256 L538 230 L560 234 L600 238 L606 256Z" fill="#F7B1AE"/>
<path d="M548.7 168.0C549.2 167.4 549.7 165.3 550.6 164.5C551.5 163.8 552.9 163.5 554.2 163.4C555.5 163.4 557.2 164.5 558.4 164.3C559.7 164.2 560.7 163.1 561.9 162.5C563.1 162.0 564.4 161.5 565.6 161.1C566.9 160.8 568.2 160.6 569.5 160.4C570.8 160.1 572.1 159.5 573.4 159.6C574.6 159.8 575.7 161.3 577.0 161.5C578.4 161.7 580.0 160.4 581.3 161.0C582.6 161.5 583.5 164.0 584.8 164.6C586.0 165.2 587.6 164.0 588.7 164.6C589.9 165.1 590.7 167.2 591.8 168.0C592.9 168.8 594.2 168.7 595.2 169.3C596.3 169.9 597.0 170.8 598.0 171.4C599.0 172.1 600.3 172.3 601.2 173.1C602.1 173.8 602.6 175.2 603.4 176.0C604.3 176.9 605.7 177.4 606.4 178.3C607.2 179.3 607.1 180.8 608.0 181.8C608.8 182.9 610.6 183.6 611.4 184.6C612.1 185.7 612.4 186.8 612.5 188.0C612.5 189.3 611.4 190.9 611.6 192.2C611.8 193.5 612.7 194.6 613.8 195.8C614.8 196.9 617.6 197.8 618.0 199.1C618.5 200.4 616.8 202.1 616.6 203.5C616.4 205.0 617.1 206.4 616.7 207.7C616.2 209.1 614.2 210.2 613.9 211.6C613.6 212.9 615.1 214.6 614.9 216.0C614.7 217.3 613.6 218.5 612.8 219.7C612.0 220.9 610.3 221.6 610.2 223.1C610.1 224.6 612.2 227.2 612.2 228.8C612.1 230.3 611.0 231.5 609.8 232.5C608.7 233.5 606.3 233.8 605.4 234.8C604.5 235.8 605.0 237.3 604.5 238.4C603.9 239.5 602.9 240.5 601.9 241.3C600.8 242.1 599.1 242.0 598.3 243.1C597.5 244.2 598.0 247.5 597.1 247.9C596.1 248.4 593.8 245.9 592.5 245.8C591.2 245.8 590.5 247.6 589.3 247.7C588.2 247.8 586.9 246.8 585.6 246.3C584.3 245.9 583.1 245.1 581.7 244.8C580.3 244.6 578.5 244.8 577.1 244.7C575.7 244.6 574.6 243.5 573.2 244.0C571.8 244.5 570.0 247.6 568.5 247.8C567.1 248.1 565.7 246.3 564.4 245.4C563.2 244.6 562.1 243.7 561.0 242.8C560.0 241.9 559.2 240.7 558.1 240.1C557.0 239.5 555.7 239.6 554.5 239.3C553.2 239.1 551.9 238.9 550.7 238.6C549.5 238.2 548.4 237.7 547.3 237.2C546.3 236.6 545.8 235.5 544.5 235.2C543.3 234.9 541.1 235.6 539.8 235.2C538.5 234.8 537.5 233.8 536.7 232.7C535.8 231.7 535.5 230.0 534.9 228.9C534.3 227.7 533.4 227.0 532.9 225.9C532.4 224.9 532.4 223.5 531.9 222.4C531.4 221.3 530.4 220.4 529.9 219.2C529.4 218.1 529.1 216.7 528.8 215.4C528.6 214.1 528.0 212.8 528.4 211.7C528.8 210.5 530.9 209.8 531.4 208.6C531.8 207.4 531.1 205.7 531.2 204.2C531.3 202.7 531.6 201.2 532.0 199.8C532.5 198.4 533.1 197.1 533.9 195.8C534.7 194.6 536.3 193.7 536.6 192.3C537.0 190.8 535.6 188.5 536.1 187.2C536.7 186.0 539.2 185.8 540.1 184.8C541.0 183.8 541.2 182.5 541.5 181.3C541.9 180.1 542.2 179.0 542.2 177.7C542.2 176.3 541.2 174.5 541.6 173.3C542.0 172.1 543.7 171.3 544.6 170.4C545.6 169.6 546.7 168.3 547.3 167.9C548.0 167.5 548.1 168.5 548.7 168.0Z" fill="#EF9795" stroke="#DB807F" stroke-width="0.9"/>
<circle cx="601.2" cy="188.1" r="0.9" fill="#C4686A"/><circle cx="572.5" cy="215.4" r="0.9" fill="#C4686A"/><circle cx="599.8" cy="231.6" r="0.9" fill="#C4686A"/><circle cx="569.0" cy="211.0" r="0.9" fill="#C4686A"/><circle cx="594.5" cy="178.6" r="0.9" fill="#C4686A"/><circle cx="544.4" cy="185.3" r="0.9" fill="#C4686A"/><circle cx="536.9" cy="194.8" r="0.9" fill="#C4686A"/><circle cx="554.8" cy="202.2" r="0.9" fill="#C4686A"/><circle cx="610.2" cy="203.5" r="0.9" fill="#C4686A"/><circle cx="566.2" cy="226.8" r="0.9" fill="#C4686A"/><circle cx="588.4" cy="178.2" r="0.9" fill="#C4686A"/><circle cx="601.7" cy="229.5" r="0.9" fill="#C4686A"/><circle cx="551.6" cy="206.1" r="0.9" fill="#C4686A"/><circle cx="585.0" cy="192.3" r="0.9" fill="#C4686A"/><circle cx="587.3" cy="213.8" r="0.9" fill="#C4686A"/><circle cx="566.8" cy="228.1" r="0.9" fill="#C4686A"/><circle cx="543.7" cy="221.8" r="0.9" fill="#C4686A"/><circle cx="596.3" cy="218.6" r="0.9" fill="#C4686A"/><circle cx="606.6" cy="230.3" r="0.9" fill="#C4686A"/><circle cx="568.2" cy="165.3" r="0.9" fill="#C4686A"/><circle cx="545.0" cy="228.6" r="0.9" fill="#C4686A"/><circle cx="607.6" cy="207.4" r="0.9" fill="#C4686A"/><circle cx="599.3" cy="216.8" r="0.9" fill="#C4686A"/><circle cx="598.3" cy="189.3" r="0.9" fill="#C4686A"/><circle cx="550.2" cy="230.6" r="0.9" fill="#C4686A"/><circle cx="573.5" cy="227.7" r="0.9" fill="#C4686A"/><circle cx="557.8" cy="193.4" r="0.9" fill="#C4686A"/><circle cx="591.0" cy="219.1" r="0.9" fill="#C4686A"/><circle cx="574.2" cy="206.7" r="0.9" fill="#C4686A"/><circle cx="591.3" cy="222.7" r="0.9" fill="#C4686A"/><circle cx="589.6" cy="227.8" r="0.9" fill="#C4686A"/><circle cx="555.4" cy="232.7" r="0.9" fill="#C4686A"/><circle cx="557.3" cy="227.3" r="0.9" fill="#C4686A"/><circle cx="551.5" cy="192.2" r="0.9" fill="#C4686A"/>
<path d="M599.5 213.2C599.2 216.5 596.2 219.3 594.4 222.2C592.6 225.2 591.3 228.9 588.7 230.7C586.0 232.6 581.8 233.7 578.5 233.4C575.2 233.0 571.1 231.0 568.7 228.6C566.4 226.1 565.2 222.0 564.3 218.5C563.5 215.0 562.9 210.9 563.8 207.8C564.8 204.6 567.7 201.7 570.1 199.5C572.6 197.3 575.8 194.8 578.7 194.6C581.6 194.3 584.7 196.6 587.7 197.9C590.7 199.3 594.7 200.1 596.6 202.6C598.6 205.2 599.9 209.9 599.5 213.2Z" fill="#C76F6E"/>
<path d="M615.7 213.7C615.8 212.6 615.9 209.3 617.0 208.7C618.1 208.0 621.1 210.1 622.4 209.7C623.7 209.3 623.7 207.0 624.7 206.3C625.6 205.6 626.8 205.5 628.2 205.5C629.5 205.5 631.3 206.6 632.6 206.4C633.9 206.3 634.9 205.7 635.9 204.8C636.9 203.8 637.4 201.2 638.6 200.8C639.8 200.4 641.6 201.9 643.0 202.3C644.3 202.6 645.5 202.8 646.7 202.8C647.9 202.9 649.0 203.0 650.2 202.7C651.3 202.4 652.3 201.5 653.4 201.0C654.5 200.5 655.7 199.5 656.9 199.7C658.1 200.0 659.2 202.1 660.4 202.5C661.6 202.9 662.5 202.9 664.0 202.3C665.4 201.6 667.7 198.7 669.1 198.8C670.4 198.9 671.1 201.7 672.0 202.8C672.9 204.0 673.5 205.1 674.6 205.8C675.6 206.5 677.2 206.5 678.3 207.2C679.4 207.8 679.7 209.4 681.1 209.9C682.4 210.3 685.2 209.2 686.3 209.8C687.5 210.4 687.3 212.4 688.1 213.5C688.8 214.6 690.2 215.3 691.0 216.5C691.8 217.6 692.7 219.1 692.8 220.5C692.9 221.9 691.7 223.5 691.5 224.9C691.2 226.4 691.0 227.7 691.1 229.1C691.2 230.6 692.7 232.6 692.2 233.8C691.7 235.0 689.0 235.3 688.0 236.4C687.1 237.5 687.4 239.0 686.6 240.1C685.8 241.2 683.3 241.7 683.2 242.8C683.1 243.9 686.0 245.6 685.9 246.8C685.7 248.1 682.7 248.7 682.3 250.3C681.8 251.8 684.1 255.2 683.3 256.0C682.6 256.7 679.8 254.2 678.0 254.6C676.2 255.1 674.1 258.5 672.6 258.5C671.1 258.4 670.0 254.7 668.7 254.3C667.5 254.0 666.4 255.5 665.2 256.3C663.9 257.1 662.7 259.3 661.4 259.0C660.1 258.7 658.6 254.6 657.3 254.6C656.0 254.6 654.7 259.0 653.5 259.0C652.2 259.1 650.8 254.9 649.6 254.9C648.4 254.9 647.6 259.1 646.0 259.1C644.4 259.2 641.8 256.1 640.0 255.3C638.2 254.6 636.7 254.2 635.1 254.5C633.6 254.9 632.0 257.4 630.6 257.6C629.2 257.7 628.0 256.1 626.9 255.4C625.7 254.8 625.1 254.0 623.8 253.6C622.5 253.2 620.4 253.8 619.0 253.2C617.7 252.5 616.3 251.0 615.6 249.8C615.0 248.6 615.5 247.3 615.1 246.2C614.6 245.1 613.3 244.2 613.0 243.0C612.8 241.8 613.8 240.2 613.5 239.0C613.3 237.7 611.8 236.6 611.6 235.5C611.5 234.3 612.3 233.4 612.5 232.0C612.7 230.6 613.6 228.6 613.1 227.1C612.6 225.6 609.7 224.5 609.4 223.0C609.1 221.5 610.0 219.3 611.1 218.0C612.3 216.8 615.5 216.1 616.3 215.4C617.1 214.7 615.6 214.9 615.7 213.7Z" fill="#EF9795" stroke="#DB807F" stroke-width="0.9"/>
<circle cx="643.2" cy="211.4" r="0.9" fill="#C4686A"/><circle cx="682.8" cy="235.4" r="0.9" fill="#C4686A"/><circle cx="653.3" cy="239.3" r="0.9" fill="#C4686A"/><circle cx="678.8" cy="238.7" r="0.9" fill="#C4686A"/><circle cx="625.6" cy="223.6" r="0.9" fill="#C4686A"/><circle cx="664.5" cy="208.7" r="0.9" fill="#C4686A"/><circle cx="624.8" cy="226.5" r="0.9" fill="#C4686A"/><circle cx="682.8" cy="214.6" r="0.9" fill="#C4686A"/><circle cx="680.9" cy="213.1" r="0.9" fill="#C4686A"/><circle cx="614.0" cy="228.4" r="0.9" fill="#C4686A"/><circle cx="641.6" cy="222.2" r="0.9" fill="#C4686A"/><circle cx="651.3" cy="228.0" r="0.9" fill="#C4686A"/><circle cx="642.0" cy="208.6" r="0.9" fill="#C4686A"/><circle cx="645.6" cy="218.1" r="0.9" fill="#C4686A"/><circle cx="622.4" cy="231.5" r="0.9" fill="#C4686A"/><circle cx="618.7" cy="216.7" r="0.9" fill="#C4686A"/><circle cx="667.5" cy="254.7" r="0.9" fill="#C4686A"/><circle cx="648.4" cy="220.7" r="0.9" fill="#C4686A"/><circle cx="637.7" cy="235.3" r="0.9" fill="#C4686A"/><circle cx="642.5" cy="220.1" r="0.9" fill="#C4686A"/><circle cx="665.9" cy="229.6" r="0.9" fill="#C4686A"/><circle cx="656.8" cy="219.5" r="0.9" fill="#C4686A"/><circle cx="649.3" cy="235.6" r="0.9" fill="#C4686A"/><circle cx="614.7" cy="218.7" r="0.9" fill="#C4686A"/>
<path d="M661.7 236.0C661.5 238.5 661.4 241.3 660.1 243.1C658.7 244.9 656.1 246.1 653.8 246.8C651.6 247.5 648.9 248.1 646.6 247.5C644.3 247.0 641.5 245.4 640.0 243.5C638.4 241.6 637.1 238.4 637.3 236.0C637.4 233.6 639.4 231.1 640.9 229.2C642.5 227.3 644.5 225.3 646.6 224.6C648.7 224.0 651.3 224.7 653.8 225.3C656.3 225.8 660.0 226.2 661.4 228.0C662.7 229.7 661.9 233.5 661.7 236.0Z" fill="#C76F6E"/>
<path d="M509.1 244.0C509.6 243.0 510.7 242.1 511.2 241.0C511.8 239.9 511.6 238.2 512.5 237.4C513.4 236.7 515.4 237.0 516.5 236.3C517.6 235.6 517.8 234.1 518.9 233.2C520.0 232.2 521.8 231.7 522.9 230.6C524.0 229.6 524.6 228.1 525.4 226.9C526.1 225.6 526.5 224.3 527.3 223.1C528.1 221.9 529.3 219.7 530.3 219.7C531.4 219.7 532.6 221.9 533.5 223.0C534.4 224.0 535.2 224.7 535.6 225.8C536.1 226.9 535.6 228.6 536.3 229.5C537.0 230.5 539.1 230.5 540.0 231.5C540.9 232.4 541.1 233.9 541.8 235.1C542.4 236.3 542.9 237.7 543.7 238.7C544.4 239.7 545.8 240.1 546.4 241.1C546.9 242.2 546.4 243.9 547.1 245.0C547.7 246.2 549.2 247.1 550.2 248.1C551.3 249.1 552.6 249.9 553.1 251.0C553.5 252.1 553.5 253.8 552.8 254.6C552.1 255.4 550.5 255.3 548.8 255.7C547.0 256.1 544.2 257.0 542.5 257.2C540.7 257.3 539.8 256.6 538.4 256.5C537.0 256.5 535.6 256.4 534.1 256.7C532.6 257.0 531.1 258.1 529.6 258.3C528.1 258.6 526.6 258.3 525.1 258.1C523.6 257.9 522.2 257.2 520.8 257.0C519.4 256.8 518.0 256.7 516.8 256.7C515.5 256.7 514.6 257.0 513.1 256.9C511.7 256.9 509.1 256.9 507.9 256.3C506.6 255.7 506.1 254.5 505.6 253.5C505.1 252.5 504.7 251.3 505.1 250.2C505.5 249.2 507.4 248.2 508.1 247.2C508.7 246.1 508.5 245.1 509.1 244.0Z" fill="#D27C7B" stroke="#C4666B" stroke-width="0.9"/>
<path d="M532.7 247.0C532.6 248.0 531.8 249.0 530.8 249.7C529.8 250.5 528.2 251.0 526.6 251.4C524.9 251.8 522.6 252.5 520.9 252.2C519.3 252.0 517.6 250.9 516.6 250.0C515.5 249.1 514.6 248.0 514.6 247.0C514.6 246.0 515.5 244.8 516.6 244.0C517.7 243.3 519.6 242.7 521.3 242.4C523.0 242.0 525.2 241.7 526.9 242.0C528.6 242.3 530.4 243.2 531.4 244.0C532.4 244.8 532.8 246.0 532.7 247.0Z" fill="#C5686D"/>
<ellipse cx="554.5" cy="245.6" rx="4" ry="2" fill="#B95A60" transform="rotate(-20 554.5 245.6)"/>
<path d="M594.2 244.5C594.5 243.4 595.3 242.5 596.0 241.5C596.7 240.4 597.7 239.4 598.3 238.3C598.9 237.2 598.8 235.7 599.5 234.8C600.2 233.8 601.4 233.2 602.5 232.6C603.7 232.1 605.2 231.9 606.3 231.4C607.5 230.9 608.1 229.9 609.2 229.4C610.3 228.8 611.6 228.4 612.8 228.1C614.0 227.8 615.1 228.1 616.3 227.8C617.6 227.5 619.3 226.0 620.3 226.3C621.4 226.6 621.9 228.6 622.8 229.7C623.6 230.7 624.6 231.6 625.4 232.6C626.1 233.6 626.7 234.5 627.2 235.6C627.7 236.8 628.1 238.3 628.6 239.4C629.0 240.6 629.5 241.5 629.9 242.7C630.2 243.9 630.3 245.3 630.7 246.6C631.1 247.9 632.0 249.2 632.5 250.4C632.9 251.7 633.8 253.0 633.3 254.0C632.7 255.1 630.9 256.3 629.3 256.9C627.7 257.5 625.1 257.3 623.6 257.5C622.0 257.8 621.3 258.6 620.1 258.5C618.9 258.4 617.6 257.0 616.3 256.8C615.1 256.7 613.8 257.5 612.5 257.6C611.2 257.8 609.9 257.7 608.6 257.6C607.4 257.6 606.1 257.4 604.9 257.4C603.7 257.4 602.9 258.0 601.4 257.8C599.9 257.6 597.6 256.5 595.9 256.1C594.3 255.6 592.3 255.7 591.8 254.9C591.2 254.1 592.2 252.2 592.6 251.1C593.0 249.9 594.1 249.1 594.4 248.0C594.6 246.9 593.9 245.6 594.2 244.5Z" fill="#D27C7B" stroke="#C4666B" stroke-width="0.9"/>
<path d="M620.9 247.0C621.0 248.4 621.5 250.3 620.5 251.3C619.5 252.3 616.7 252.7 614.8 253.1C612.9 253.5 610.8 253.9 608.9 253.6C607.1 253.3 604.9 252.4 603.6 251.3C602.3 250.2 601.2 248.4 601.3 247.0C601.4 245.6 602.7 244.0 604.0 242.9C605.3 241.8 607.1 240.6 608.9 240.3C610.7 240.0 612.9 240.7 614.7 241.1C616.6 241.5 618.9 242.0 620.0 243.0C621.0 243.9 620.8 245.6 620.9 247.0Z" fill="#C5686D"/>
<path d="M436.8 251.9C436.2 251.2 434.4 249.8 434.3 248.7C434.3 247.5 435.9 246.3 436.5 245.1C437.2 243.9 437.3 242.5 438.0 241.4C438.6 240.3 440.0 239.5 440.5 238.3C441.0 237.1 440.5 235.3 441.0 234.2C441.5 233.1 442.9 232.6 443.7 231.6C444.4 230.6 444.8 229.1 445.7 228.3C446.6 227.5 448.1 227.5 448.9 226.6C449.7 225.7 449.8 223.6 450.7 222.8C451.6 221.9 453.3 222.2 454.3 221.4C455.3 220.7 455.7 218.9 456.8 218.4C457.9 217.9 459.7 218.4 461.0 218.6C462.2 218.7 463.3 219.1 464.5 219.2C465.7 219.2 467.0 218.9 468.2 219.0C469.4 219.0 470.7 219.3 471.9 219.5C473.2 219.8 474.6 220.0 475.8 220.4C477.1 220.7 478.1 221.3 479.4 221.6C480.6 221.8 481.9 221.6 483.1 221.8C484.3 222.1 485.6 222.8 486.8 223.2C488.1 223.5 489.3 223.8 490.6 224.1C491.9 224.4 493.4 224.5 494.6 225.0C495.7 225.5 496.6 226.3 497.6 227.1C498.6 227.8 499.3 228.9 500.3 229.5C501.4 230.2 503.0 230.3 504.0 231.0C505.0 231.8 505.1 233.1 506.1 234.0C507.0 234.9 508.9 235.3 509.6 236.4C510.4 237.4 510.2 239.0 510.4 240.4C510.5 241.7 510.0 243.4 510.5 244.6C511.0 245.8 512.6 246.6 513.2 247.7C513.8 248.9 514.4 250.4 514.1 251.6C513.8 252.8 512.6 254.0 511.5 254.8C510.4 255.6 509.0 255.6 507.5 256.3C506.1 257.0 504.4 258.4 502.6 258.9C500.9 259.3 498.6 259.0 497.1 259.1C495.6 259.2 494.7 259.8 493.4 259.6C492.1 259.4 490.7 258.1 489.2 258.0C487.8 258.0 486.3 259.1 484.7 259.2C483.2 259.3 481.5 258.4 479.9 258.4C478.3 258.4 476.7 259.4 475.0 259.4C473.4 259.4 471.7 258.3 470.1 258.4C468.5 258.4 466.9 259.7 465.3 259.9C463.7 260.0 462.2 259.4 460.8 259.1C459.3 258.8 458.0 258.1 456.7 258.1C455.3 258.0 454.5 258.9 453.0 258.8C451.4 258.8 449.1 258.0 447.6 257.7C446.0 257.4 444.9 257.5 443.7 257.1C442.5 256.7 441.2 256.2 440.2 255.5C439.2 254.8 438.5 253.5 437.9 253.0C437.3 252.4 437.4 252.7 436.8 251.9Z" fill="#F7B1AE" stroke="#EA9E9C" stroke-width="0.9"/>
<circle cx="478.4" cy="223.4" r="0.9" fill="#D07C7E"/><circle cx="458.1" cy="235.5" r="0.9" fill="#D07C7E"/><circle cx="500.3" cy="256.4" r="0.9" fill="#D07C7E"/><circle cx="470.0" cy="256.4" r="0.9" fill="#D07C7E"/><circle cx="471.4" cy="250.0" r="0.9" fill="#D07C7E"/><circle cx="472.2" cy="243.9" r="0.9" fill="#D07C7E"/><circle cx="487.6" cy="230.4" r="0.9" fill="#D07C7E"/><circle cx="489.4" cy="229.4" r="0.9" fill="#D07C7E"/><circle cx="442.5" cy="233.3" r="0.9" fill="#D07C7E"/><circle cx="496.8" cy="232.3" r="0.9" fill="#D07C7E"/><circle cx="478.4" cy="249.1" r="0.9" fill="#D07C7E"/><circle cx="457.8" cy="252.7" r="0.9" fill="#D07C7E"/><circle cx="455.1" cy="225.2" r="0.9" fill="#D07C7E"/><circle cx="496.2" cy="237.1" r="0.9" fill="#D07C7E"/><circle cx="508.8" cy="253.5" r="0.9" fill="#D07C7E"/><circle cx="479.4" cy="247.2" r="0.9" fill="#D07C7E"/><circle cx="444.7" cy="246.9" r="0.9" fill="#D07C7E"/><circle cx="491.7" cy="256.6" r="0.9" fill="#D07C7E"/><circle cx="486.6" cy="244.8" r="0.9" fill="#D07C7E"/><circle cx="446.6" cy="250.4" r="0.9" fill="#D07C7E"/><circle cx="439.5" cy="241.7" r="0.9" fill="#D07C7E"/><circle cx="484.2" cy="255.9" r="0.9" fill="#D07C7E"/>
<line x1="467.5" y1="334" x2="451.1" y2="345.7" stroke="#4C2B52" stroke-width="2"/>
<line x1="632.5" y1="359" x2="642.9" y2="371.8" stroke="#4C2B52" stroke-width="2"/>
<line x1="552.5" y1="380.5" x2="545.5" y2="394.7" stroke="#7E2222" stroke-width="1.4"/>
<path d="M622.5 296.3C623.1 297.1 622.6 298.6 622.7 299.8C622.9 301.0 623.0 302.3 623.5 303.5C624.0 304.6 625.2 305.6 625.8 306.7C626.4 307.9 626.8 309.2 627.1 310.4C627.5 311.6 627.4 312.8 627.9 313.9C628.5 315.0 629.5 316.3 630.5 316.9C631.5 317.5 632.8 317.3 634.0 317.5C635.3 317.6 636.6 317.8 637.8 317.8C639.1 317.8 640.3 317.1 641.5 317.4C642.7 317.7 643.9 318.9 645.1 319.5C646.3 320.1 647.6 320.7 648.8 321.2C650.0 321.7 651.1 322.3 652.4 322.6C653.6 322.9 655.2 322.6 656.4 323.1C657.5 323.7 658.3 325.4 659.4 325.9C660.5 326.4 661.9 326.2 663.1 326.0C664.2 325.9 665.6 325.6 666.4 324.8C667.3 323.9 667.5 322.1 668.3 321.1C669.2 320.1 670.6 319.9 671.3 318.8C672.0 317.7 671.5 315.3 672.4 314.5C673.3 313.7 675.2 313.9 676.6 313.7C678.0 313.6 680.0 314.4 680.8 313.5C681.5 312.7 680.9 309.9 681.1 308.7C681.2 307.4 680.9 306.9 681.6 306.2C682.2 305.4 684.1 305.1 685.0 304.1C685.9 303.2 686.8 301.9 687.0 300.5C687.1 299.1 685.3 296.4 685.8 295.6C686.4 294.8 690.3 295.5 690.3 295.4C690.3 295.3 687.8 295.2 685.9 295.1C683.9 294.9 680.6 294.4 678.5 294.3C676.4 294.2 675.2 294.7 673.4 294.6C671.6 294.4 669.6 293.7 667.6 293.6C665.6 293.6 663.5 294.1 661.4 294.2C659.3 294.3 657.2 294.6 655.0 294.3C652.9 294.0 650.7 292.8 648.6 292.6C646.5 292.3 644.4 292.5 642.4 292.8C640.4 293.0 638.5 293.1 636.7 293.9C634.9 294.7 633.2 297.3 631.6 297.4C630.0 297.5 628.9 295.1 627.2 294.4C625.6 293.8 623.1 293.4 621.7 293.4C620.4 293.5 619.1 294.3 619.3 294.8C619.4 295.3 621.9 295.5 622.5 296.3Z" fill="#7B67A2" stroke="#4E3C82" stroke-width="0.9"/>
<circle cx="659.8" cy="300.2" r="0.9" fill="#5C4688"/><circle cx="652.6" cy="315.1" r="0.9" fill="#5C4688"/><circle cx="636.6" cy="301.0" r="0.9" fill="#5C4688"/><circle cx="641.3" cy="316.0" r="0.9" fill="#5C4688"/><circle cx="627.5" cy="300.1" r="0.9" fill="#5C4688"/><circle cx="646.2" cy="309.0" r="0.9" fill="#5C4688"/><circle cx="643.7" cy="314.3" r="0.9" fill="#5C4688"/><circle cx="648.6" cy="300.6" r="0.9" fill="#5C4688"/><circle cx="650.3" cy="303.7" r="0.9" fill="#5C4688"/><circle cx="666.1" cy="315.1" r="0.9" fill="#5C4688"/><circle cx="678.9" cy="306.5" r="0.9" fill="#5C4688"/><circle cx="647.0" cy="307.5" r="0.9" fill="#5C4688"/><circle cx="648.6" cy="315.3" r="0.9" fill="#5C4688"/><circle cx="656.9" cy="305.0" r="0.9" fill="#5C4688"/>
<path d="M670.2 299.0C670.0 300.7 666.4 302.2 664.5 303.7C662.6 305.2 661.2 307.4 658.7 308.0C656.2 308.7 652.5 308.1 649.5 307.5C646.6 307.0 642.6 306.3 641.0 304.9C639.4 303.4 639.8 300.9 639.8 299.0C639.8 297.1 639.4 294.5 641.1 293.2C642.8 291.9 646.9 291.8 649.9 291.1C652.9 290.5 656.4 289.0 659.0 289.4C661.6 289.9 663.6 292.2 665.5 293.8C667.3 295.4 670.3 297.3 670.2 299.0Z" fill="#5F4E86"/>
<path d="M618 296 L619 305 Q623 311 627 305 L628 296Z" fill="#F7B1AE"/>
<path d="M468.9 299.2C468.0 299.6 466.8 300.6 466.2 301.6C465.6 302.6 465.8 304.2 465.4 305.3C464.9 306.4 463.6 306.9 463.5 308.2C463.5 309.5 465.8 311.8 465.2 313.0C464.6 314.3 460.0 314.8 459.8 315.9C459.6 316.9 463.2 318.4 463.9 319.5C464.6 320.7 464.6 321.7 464.1 322.9C463.5 324.2 460.7 326.0 460.7 327.2C460.8 328.4 463.8 328.9 464.3 330.2C464.7 331.4 463.4 333.3 463.5 334.6C463.5 336.0 463.6 337.7 464.7 338.4C465.9 339.1 469.3 338.2 470.3 338.9C471.4 339.6 470.8 341.4 471.1 342.7C471.5 344.0 471.4 346.0 472.3 346.7C473.2 347.4 475.6 346.3 476.7 347.0C477.8 347.7 477.9 349.8 478.7 350.9C479.6 352.0 480.9 352.9 481.9 353.8C482.9 354.6 483.4 356.1 484.7 356.1C486.1 356.0 488.7 353.4 490.0 353.4C491.2 353.5 491.4 355.6 492.2 356.6C493.1 357.6 493.9 358.6 494.9 359.4C495.9 360.3 497.0 361.4 498.2 361.6C499.4 361.8 500.8 360.9 502.1 360.7C503.4 360.4 504.9 360.5 506.3 360.2C507.6 360.0 509.1 359.6 510.4 359.2C511.7 358.7 512.9 358.2 514.1 357.5C515.2 356.7 516.1 355.4 517.2 354.7C518.3 353.9 520.1 354.1 520.6 352.9C521.2 351.7 519.5 348.5 520.5 347.7C521.5 346.9 525.4 348.6 526.6 348.0C527.9 347.4 527.7 345.4 528.0 344.0C528.2 342.7 527.2 340.8 528.0 339.9C528.8 338.9 531.8 339.1 532.9 338.1C533.9 337.1 533.9 335.3 534.3 334.0C534.8 332.8 535.2 331.7 535.6 330.6C535.9 329.4 536.5 328.5 536.7 327.2C536.9 326.0 536.5 324.3 536.8 323.0C537.1 321.7 538.8 320.5 538.5 319.3C538.1 318.1 534.7 317.0 534.6 315.6C534.5 314.3 537.4 312.4 537.6 311.0C537.9 309.6 536.5 308.5 536.2 307.1C535.9 305.7 536.2 304.2 535.8 302.9C535.3 301.6 534.5 300.2 533.5 299.2C532.5 298.3 530.9 297.5 529.6 297.3C528.3 297.0 527.0 297.7 525.7 297.7C524.3 297.8 522.9 298.3 521.5 297.7C520.2 297.1 519.2 294.6 517.5 294.1C515.8 293.6 512.9 294.1 511.2 294.5C509.6 295.0 508.8 296.7 507.6 296.7C506.4 296.6 505.1 294.3 503.8 294.1C502.6 294.0 501.2 296.1 499.9 296.0C498.6 295.9 497.3 293.8 496.0 293.5C494.7 293.2 493.5 294.3 492.2 294.3C491.0 294.3 490.3 293.5 488.6 293.4C487.0 293.3 484.2 293.6 482.4 293.8C480.7 294.0 479.5 294.4 478.1 294.6C476.6 294.7 474.7 293.8 473.6 294.5C472.6 295.2 472.4 298.1 471.6 298.9C470.8 299.7 469.8 298.7 468.9 299.2Z" fill="#7B67A2" stroke="#4E3C82" stroke-width="0.9"/>
<circle cx="536.3" cy="324.4" r="0.9" fill="#5C4688"/><circle cx="516.1" cy="342.9" r="0.9" fill="#5C4688"/><circle cx="477.1" cy="299.2" r="0.9" fill="#5C4688"/><circle cx="507.1" cy="302.1" r="0.9" fill="#5C4688"/><circle cx="490.0" cy="353.3" r="0.9" fill="#5C4688"/><circle cx="528.0" cy="301.9" r="0.9" fill="#5C4688"/><circle cx="466.8" cy="308.8" r="0.9" fill="#5C4688"/><circle cx="524.6" cy="295.6" r="0.9" fill="#5C4688"/><circle cx="477.9" cy="301.1" r="0.9" fill="#5C4688"/><circle cx="470.3" cy="328.9" r="0.9" fill="#5C4688"/><circle cx="474.6" cy="321.3" r="0.9" fill="#5C4688"/><circle cx="517.2" cy="342.2" r="0.9" fill="#5C4688"/><circle cx="492.6" cy="346.4" r="0.9" fill="#5C4688"/><circle cx="504.8" cy="349.1" r="0.9" fill="#5C4688"/><circle cx="479.7" cy="318.6" r="0.9" fill="#5C4688"/><circle cx="505.4" cy="357.0" r="0.9" fill="#5C4688"/><circle cx="508.3" cy="325.6" r="0.9" fill="#5C4688"/><circle cx="479.8" cy="312.7" r="0.9" fill="#5C4688"/><circle cx="501.4" cy="341.2" r="0.9" fill="#5C4688"/><circle cx="483.4" cy="326.1" r="0.9" fill="#5C4688"/><circle cx="471.7" cy="322.0" r="0.9" fill="#5C4688"/><circle cx="480.0" cy="300.7" r="0.9" fill="#5C4688"/><circle cx="531.7" cy="300.4" r="0.9" fill="#5C4688"/><circle cx="523.4" cy="340.6" r="0.9" fill="#5C4688"/><circle cx="467.4" cy="326.3" r="0.9" fill="#5C4688"/><circle cx="504.1" cy="345.4" r="0.9" fill="#5C4688"/>
<path d="M511.6 324.6C511.2 327.6 508.4 330.4 506.6 332.9C504.7 335.5 503.1 338.5 500.6 339.9C498.0 341.2 494.4 341.2 491.2 341.0C488.1 340.7 483.9 340.3 481.7 338.3C479.5 336.3 478.7 332.2 478.1 329.2C477.4 326.1 477.1 322.9 477.8 320.0C478.6 317.1 480.3 313.8 482.6 311.9C484.8 310.0 488.2 309.2 491.3 308.6C494.4 308.0 498.2 307.2 501.1 308.3C504.0 309.3 506.9 312.2 508.6 314.9C510.4 317.7 511.9 321.6 511.6 324.6Z" fill="#5F4E86"/>
<path d="M464 296 L465.5 303 Q468 305.5 471 304 Q474 309 478.5 304.5 Q481 302 482 296Z" fill="#F7B1AE"/>
<path d="M601.1 337.5C602.3 336.8 602.2 335.5 602.5 334.3C602.7 333.2 602.0 331.6 602.6 330.5C603.1 329.4 605.0 328.7 605.9 327.6C606.7 326.5 606.9 324.9 607.6 323.8C608.4 322.6 609.4 321.7 610.5 320.8C611.5 319.8 612.9 318.9 613.7 318.0C614.5 317.0 614.5 315.7 615.4 314.8C616.2 313.9 617.7 313.7 618.5 312.5C619.3 311.3 618.9 308.1 620.0 307.7C621.1 307.3 623.6 309.7 625.0 310.0C626.5 310.4 627.5 310.0 628.7 310.0C630.0 310.1 631.6 309.6 632.6 310.1C633.6 310.7 634.0 312.4 634.7 313.5C635.4 314.5 636.1 315.5 637.0 316.3C637.8 317.2 638.5 318.1 639.9 318.6C641.3 319.1 644.6 318.6 645.6 319.5C646.5 320.5 645.0 323.0 645.5 324.2C646.0 325.5 648.1 326.0 648.3 327.2C648.6 328.5 647.1 330.3 646.8 331.7C646.5 333.0 646.6 334.2 646.6 335.5C646.6 336.8 647.2 338.0 647.1 339.3C647.0 340.5 646.1 341.7 645.9 342.9C645.6 344.2 645.4 345.2 645.6 346.6C645.7 348.1 647.3 350.4 646.8 351.5C646.4 352.7 644.0 352.9 642.7 353.5C641.5 354.1 640.2 354.4 639.3 355.2C638.3 355.9 637.7 357.1 637.0 358.2C636.4 359.2 636.2 361.0 635.1 361.7C634.0 362.3 631.7 361.6 630.4 361.9C629.1 362.2 628.3 362.6 627.2 363.5C626.1 364.5 625.0 367.4 623.8 367.6C622.5 367.7 621.0 364.5 619.6 364.7C618.2 364.8 616.9 368.3 615.5 368.3C614.2 368.3 612.9 365.3 611.6 364.8C610.3 364.2 608.8 365.5 607.6 365.2C606.4 364.9 605.7 363.4 604.5 362.8C603.4 362.1 602.2 361.8 600.7 361.4C599.2 360.9 596.9 361.0 595.7 360.1C594.6 359.2 593.7 357.4 593.9 355.9C594.1 354.5 596.5 352.8 596.7 351.4C596.8 350.0 595.3 349.1 594.8 347.7C594.3 346.2 593.6 344.2 593.7 342.6C593.7 341.0 593.9 339.0 595.1 338.1C596.4 337.3 599.9 338.1 601.1 337.5Z" fill="#7B67A2" stroke="#4E3C82" stroke-width="0.9"/>
<circle cx="641.0" cy="329.0" r="0.9" fill="#5C4688"/><circle cx="612.0" cy="352.5" r="0.9" fill="#5C4688"/><circle cx="613.2" cy="318.6" r="0.9" fill="#5C4688"/><circle cx="613.9" cy="351.5" r="0.9" fill="#5C4688"/><circle cx="603.6" cy="346.4" r="0.9" fill="#5C4688"/><circle cx="614.0" cy="318.9" r="0.9" fill="#5C4688"/><circle cx="618.1" cy="331.1" r="0.9" fill="#5C4688"/><circle cx="619.6" cy="358.8" r="0.9" fill="#5C4688"/><circle cx="623.0" cy="323.5" r="0.9" fill="#5C4688"/><circle cx="628.1" cy="315.9" r="0.9" fill="#5C4688"/><circle cx="638.2" cy="352.3" r="0.9" fill="#5C4688"/><circle cx="616.1" cy="339.3" r="0.9" fill="#5C4688"/><circle cx="621.9" cy="352.1" r="0.9" fill="#5C4688"/><circle cx="628.1" cy="355.7" r="0.9" fill="#5C4688"/><circle cx="622.4" cy="342.5" r="0.9" fill="#5C4688"/><circle cx="643.8" cy="348.6" r="0.9" fill="#5C4688"/>
<path d="M633.2 339.0C633.2 342.1 631.3 345.7 629.5 348.3C627.7 350.9 625.3 353.1 622.7 354.4C620.1 355.6 616.9 356.2 614.1 355.9C611.2 355.6 608.0 354.5 605.6 352.5C603.3 350.6 600.6 347.3 600.0 344.3C599.3 341.2 600.5 337.2 601.7 334.3C602.8 331.4 604.6 328.8 606.7 326.8C608.8 324.9 611.6 322.9 614.1 322.6C616.7 322.3 619.6 323.7 622.2 324.9C624.8 326.0 627.9 327.2 629.7 329.5C631.6 331.9 633.3 335.9 633.2 339.0Z" fill="#5F4E86"/>
<path d="M535.9 319.4C534.6 319.5 533.3 321.2 532.9 322.4C532.5 323.7 533.8 325.7 533.7 327.0C533.6 328.4 532.3 329.2 532.4 330.5C532.5 331.8 534.6 333.6 534.2 334.8C533.9 336.1 531.0 336.8 530.1 337.9C529.2 339.0 529.1 340.2 529.0 341.5C528.8 342.7 529.4 344.0 529.3 345.3C529.2 346.7 528.7 348.2 528.4 349.4C528.2 350.7 528.0 351.9 528.1 353.0C528.1 354.2 528.6 355.1 528.6 356.4C528.6 357.6 528.1 359.1 528.2 360.4C528.4 361.7 528.9 362.9 529.5 364.0C530.2 365.1 531.1 366.1 532.0 367.2C532.8 368.3 533.5 369.7 534.7 370.4C535.9 371.1 538.3 370.6 539.3 371.5C540.4 372.3 540.0 374.5 540.9 375.3C541.8 376.1 543.8 375.4 544.7 376.3C545.7 377.2 545.8 379.6 546.9 380.6C547.9 381.6 549.5 381.5 550.8 382.1C552.1 382.7 553.1 384.5 554.5 384.2C555.9 384.0 557.8 380.9 559.2 380.8C560.6 380.8 561.7 383.6 563.0 384.1C564.3 384.6 565.8 384.1 567.2 383.8C568.5 383.5 570.2 383.3 571.2 382.3C572.1 381.3 572.0 378.6 572.8 377.6C573.6 376.6 574.6 376.3 576.0 376.3C577.4 376.4 580.1 378.5 581.2 377.9C582.3 377.3 581.5 373.5 582.5 372.6C583.5 371.8 586.0 373.0 587.3 372.6C588.6 372.2 589.6 371.2 590.4 370.1C591.3 369.0 591.4 367.1 592.4 366.1C593.4 365.2 595.6 365.3 596.4 364.4C597.3 363.4 596.7 361.7 597.4 360.6C598.1 359.5 599.8 359.0 600.5 357.9C601.2 356.9 602.1 355.6 601.8 354.3C601.5 353.0 599.1 351.5 598.7 350.2C598.3 348.9 599.4 347.6 599.3 346.4C599.2 345.3 598.3 344.4 598.0 343.2C597.7 342.1 598.4 340.6 597.6 339.7C596.9 338.9 594.2 339.1 593.5 338.0C592.9 336.9 594.2 334.3 593.8 333.1C593.4 331.9 592.4 331.0 591.2 330.6C590.0 330.1 587.9 330.3 586.4 330.3C585.0 330.4 583.4 331.9 582.6 330.9C581.7 330.0 582.1 325.8 581.1 324.8C580.2 323.8 578.4 324.6 576.9 324.9C575.4 325.3 573.4 327.3 572.3 326.8C571.1 326.4 570.9 323.3 569.9 322.2C569.0 321.1 567.9 320.8 566.7 320.4C565.6 320.0 564.4 320.0 563.2 319.8C562.0 319.5 560.8 319.4 559.6 319.1C558.5 318.8 557.7 318.1 556.3 317.9C554.9 317.7 553.0 317.8 551.5 317.8C550.0 317.7 548.6 317.5 547.3 317.8C546.0 318.0 544.7 318.8 543.7 319.5C542.6 320.2 542.4 321.9 541.1 321.9C539.8 321.9 537.3 319.3 535.9 319.4Z" fill="#C67B78" stroke="#B2625E" stroke-width="0.9"/>
<circle cx="545.8" cy="356.4" r="0.9" fill="#A85452"/><circle cx="562.9" cy="338.4" r="0.9" fill="#A85452"/><circle cx="582.5" cy="334.5" r="0.9" fill="#A85452"/><circle cx="571.0" cy="364.8" r="0.9" fill="#A85452"/><circle cx="593.6" cy="336.5" r="0.9" fill="#A85452"/><circle cx="550.7" cy="330.4" r="0.9" fill="#A85452"/><circle cx="570.6" cy="378.9" r="0.9" fill="#A85452"/><circle cx="581.1" cy="327.2" r="0.9" fill="#A85452"/><circle cx="554.9" cy="323.0" r="0.9" fill="#A85452"/><circle cx="539.6" cy="350.5" r="0.9" fill="#A85452"/><circle cx="539.1" cy="335.9" r="0.9" fill="#A85452"/><circle cx="545.6" cy="345.9" r="0.9" fill="#A85452"/><circle cx="589.9" cy="333.5" r="0.9" fill="#A85452"/><circle cx="572.3" cy="344.4" r="0.9" fill="#A85452"/><circle cx="549.1" cy="337.7" r="0.9" fill="#A85452"/><circle cx="584.3" cy="373.6" r="0.9" fill="#A85452"/><circle cx="581.0" cy="376.7" r="0.9" fill="#A85452"/><circle cx="580.7" cy="337.7" r="0.9" fill="#A85452"/><circle cx="544.9" cy="355.4" r="0.9" fill="#A85452"/><circle cx="572.0" cy="369.8" r="0.9" fill="#A85452"/><circle cx="577.3" cy="370.8" r="0.9" fill="#A85452"/><circle cx="563.9" cy="370.7" r="0.9" fill="#A85452"/><circle cx="591.3" cy="351.8" r="0.9" fill="#A85452"/><circle cx="552.8" cy="343.1" r="0.9" fill="#A85452"/><circle cx="572.3" cy="355.4" r="0.9" fill="#A85452"/><circle cx="563.8" cy="343.7" r="0.9" fill="#A85452"/>
<path d="M586.3 352.0C586.0 354.7 584.2 357.2 582.7 359.5C581.3 361.9 579.8 364.6 577.4 366.1C575.1 367.6 571.2 369.1 568.6 368.4C566.1 367.8 564.2 364.1 562.3 362.1C560.3 360.0 557.6 358.5 556.8 356.2C555.9 353.8 556.3 350.4 557.1 347.9C557.9 345.4 559.8 343.3 561.7 341.2C563.6 339.2 566.0 336.5 568.7 335.8C571.4 335.1 575.3 335.6 577.9 336.8C580.6 338.1 583.1 340.8 584.5 343.3C585.9 345.8 586.6 349.3 586.3 352.0Z" fill="#B05C5C"/>
<path d="M532.2 295.6C531.9 296.1 532.3 298.1 532.1 299.3C532.0 300.5 531.2 301.5 531.3 302.7C531.4 303.9 532.6 305.1 532.6 306.3C532.6 307.5 531.3 308.7 531.2 309.8C531.1 310.8 531.5 311.8 532.0 312.8C532.6 313.8 533.6 314.7 534.4 315.8C535.2 316.8 535.7 318.3 536.7 319.1C537.7 319.9 539.1 320.2 540.4 320.7C541.7 321.2 543.4 321.3 544.4 322.1C545.4 323.0 545.3 325.0 546.2 325.8C547.0 326.6 548.5 326.5 549.5 327.1C550.6 327.7 551.4 329.1 552.6 329.5C553.8 329.9 555.7 328.8 556.9 329.4C558.0 330.1 558.2 332.9 559.3 333.6C560.4 334.3 562.2 333.2 563.6 333.5C564.9 333.9 566.1 335.2 567.3 335.6C568.5 336.1 569.6 336.1 570.8 336.0C572.0 335.9 573.2 335.4 574.4 335.1C575.7 334.9 576.9 334.3 578.2 334.4C579.5 334.6 580.8 335.7 582.1 336.0C583.4 336.3 584.8 336.3 586.1 336.2C587.3 336.1 588.5 335.5 589.8 335.5C591.1 335.4 592.4 336.4 593.7 336.1C595.0 335.9 596.3 334.8 597.4 334.1C598.6 333.4 599.9 333.0 600.5 331.9C601.2 330.8 600.7 328.7 601.5 327.7C602.3 326.6 604.3 326.4 605.2 325.5C606.1 324.7 606.1 323.3 606.9 322.5C607.8 321.7 609.4 321.7 610.4 321.0C611.3 320.3 611.9 319.4 612.7 318.5C613.5 317.6 614.5 316.6 615.4 315.6C616.2 314.7 616.9 313.4 617.9 312.8C618.9 312.1 620.5 312.2 621.5 311.6C622.5 311.0 623.0 310.0 624.0 309.2C624.9 308.4 626.9 307.9 627.2 306.9C627.6 305.8 626.2 303.8 626.2 302.7C626.2 301.5 627.3 301.0 627.3 300.1C627.3 299.3 626.9 298.3 626.2 297.5C625.5 296.7 624.2 296.0 623.1 295.5C622.0 294.9 620.9 294.5 619.6 294.3C618.3 294.0 616.8 294.3 615.3 293.9C613.8 293.6 612.3 292.3 610.7 292.1C609.0 291.9 607.2 292.9 605.4 292.8C603.6 292.7 601.9 291.7 600.0 291.4C598.1 291.1 596.2 291.1 594.0 291.2C591.9 291.4 588.9 292.2 587.2 292.2C585.5 292.2 584.9 291.1 583.7 291.2C582.5 291.3 581.3 292.2 580.1 292.7C578.9 293.1 577.7 293.5 576.5 293.7C575.3 293.9 574.1 293.8 573.0 293.8C571.8 293.8 571.2 293.8 569.5 293.6C567.8 293.5 565.0 293.2 563.0 292.9C560.9 292.7 559.1 292.0 557.2 292.3C555.3 292.6 553.6 294.3 551.8 294.6C550.0 294.9 548.2 294.3 546.4 294.1C544.7 293.8 542.9 292.9 541.4 293.1C539.9 293.3 538.7 294.9 537.4 295.4C536.2 295.9 534.9 296.1 534.0 296.1C533.2 296.2 532.5 295.1 532.2 295.6Z" fill="#F7B1AE" stroke="#EA9E9C" stroke-width="0.9"/>
<circle cx="558.1" cy="312.2" r="0.9" fill="#D07C7E"/><circle cx="584.1" cy="296.5" r="0.9" fill="#D07C7E"/><circle cx="579.7" cy="334.1" r="0.9" fill="#D07C7E"/><circle cx="585.6" cy="314.8" r="0.9" fill="#D07C7E"/><circle cx="607.6" cy="311.8" r="0.9" fill="#D07C7E"/><circle cx="557.7" cy="328.9" r="0.9" fill="#D07C7E"/><circle cx="581.1" cy="294.9" r="0.9" fill="#D07C7E"/><circle cx="547.8" cy="326.0" r="0.9" fill="#D07C7E"/><circle cx="601.7" cy="319.4" r="0.9" fill="#D07C7E"/><circle cx="544.3" cy="323.9" r="0.9" fill="#D07C7E"/><circle cx="595.6" cy="311.6" r="0.9" fill="#D07C7E"/><circle cx="572.1" cy="298.7" r="0.9" fill="#D07C7E"/><circle cx="569.5" cy="309.1" r="0.9" fill="#D07C7E"/><circle cx="578.0" cy="335.3" r="0.9" fill="#D07C7E"/><circle cx="607.0" cy="315.1" r="0.9" fill="#D07C7E"/><circle cx="593.9" cy="327.0" r="0.9" fill="#D07C7E"/><circle cx="595.5" cy="294.2" r="0.9" fill="#D07C7E"/><circle cx="576.1" cy="317.8" r="0.9" fill="#D07C7E"/><circle cx="596.2" cy="333.0" r="0.9" fill="#D07C7E"/><circle cx="606.9" cy="310.4" r="0.9" fill="#D07C7E"/><circle cx="577.5" cy="326.3" r="0.9" fill="#D07C7E"/><circle cx="604.4" cy="307.9" r="0.9" fill="#D07C7E"/>
<path d="M602.3 305.0C602.3 306.8 601.8 309.0 599.8 310.4C597.8 311.7 593.8 312.5 590.3 313.2C586.9 313.8 582.4 314.6 579.1 314.1C575.8 313.6 572.4 311.8 570.5 310.3C568.6 308.7 567.8 306.8 567.6 305.0C567.4 303.2 567.4 300.8 569.3 299.3C571.2 297.8 575.5 296.5 579.1 295.9C582.7 295.4 587.5 295.2 591.0 295.8C594.5 296.4 598.2 298.0 600.0 299.5C601.9 301.1 602.4 303.2 602.3 305.0Z" fill="#DE8A8A"/>
<path d="M712 298 Q713 302.5 717.5 302.5 Q722 302.5 723 298Z" fill="#4C2B52"/>
<rect x="366" y="250.6" width="389" height="48.6" fill="#9D4949"/>
<rect x="366" y="255.4" width="389" height="38.8" fill="#C56E73"/>
<rect x="458.4" y="250.4" width="2.6" height="5.2" fill="#CB7B7F"/>
<rect x="490.3" y="250.4" width="2.6" height="5.2" fill="#CB7B7F"/>
<rect x="522.5" y="250.4" width="2.6" height="5.2" fill="#CB7B7F"/>
<rect x="568.5" y="250.4" width="2.6" height="5.2" fill="#CB7B7F"/>
<rect x="600.9" y="250.4" width="2.6" height="5.2" fill="#CB7B7F"/>
<rect x="459.0" y="294" width="2.6" height="5.4" fill="#CB7B7F"/>
<rect x="512.6" y="294" width="2.6" height="5.4" fill="#CB7B7F"/>
<rect x="534.6" y="294" width="2.6" height="5.4" fill="#CB7B7F"/>
<rect x="636.0" y="294" width="2.6" height="5.4" fill="#CB7B7F"/>
<path d="M435.4 280.2C435.0 280.8 433.8 281.0 433.2 281.5C432.5 282.1 432.2 283.2 431.5 283.5C430.8 283.7 429.8 283.1 428.9 283.1C428.1 283.1 427.1 283.8 426.4 283.5C425.7 283.3 425.4 282.1 424.7 281.6C424.1 281.0 422.8 280.9 422.5 280.3C422.1 279.6 422.6 278.5 422.4 277.7C422.3 276.8 421.4 276.0 421.6 275.2C421.7 274.5 422.8 274.0 423.2 273.2C423.6 272.5 423.5 271.3 424.1 270.8C424.7 270.3 425.8 270.6 426.6 270.3C427.4 270.0 428.1 269.1 428.9 269.1C429.6 269.1 430.3 270.0 431.1 270.3C431.9 270.6 433.1 270.3 433.7 270.8C434.2 271.2 434.1 272.5 434.6 273.2C435.0 273.9 436.1 274.4 436.2 275.2C436.4 275.9 435.5 276.8 435.4 277.6C435.2 278.4 435.7 279.5 435.4 280.2Z" fill="#38932F" stroke="#2C7B27" stroke-width="0.7"/><circle cx="428.9" cy="276.5" r="5.8" fill="none" stroke="#2A7826" stroke-width="0.7" stroke-dasharray="0.9 1.3" opacity="0.8"/><circle cx="428.9" cy="276.5" r="4.3" fill="url(#gold)"/>
<rect x="494.8" y="266.7" width="32.2" height="14.8" rx="7.4" fill="#A63040"/><rect x="495.6" y="267.2" width="30.6" height="13.4" rx="6.7" fill="#B83A49"/><path d="M501.6 270.9 Q505 268.3 513 269.2 Q508.6 270.6 507.6 274.4 Q503 273.6 501.6 270.9Z" fill="#872832"/><path d="M514.9 274.7 Q520.6 274.5 522.3 271.4" fill="none" stroke="#E06874" stroke-width="1.1" stroke-linecap="round"/>
<path d="M598.4 274.7C598.4 275.4 597.4 276.1 597.0 276.9C596.7 277.7 597.0 278.8 596.4 279.4C595.9 279.9 594.7 279.8 594.0 280.2C593.2 280.5 592.6 281.6 591.9 281.7C591.2 281.8 590.3 280.9 589.5 280.7C588.7 280.5 587.6 280.9 586.9 280.5C586.3 280.1 586.3 278.9 585.7 278.2C585.2 277.6 584.1 277.2 583.9 276.5C583.7 275.8 584.4 274.8 584.4 273.9C584.5 273.1 583.9 272.1 584.1 271.4C584.4 270.7 585.6 270.4 586.2 269.8C586.8 269.2 587.0 268.0 587.6 267.7C588.3 267.3 589.4 267.9 590.2 267.8C591.1 267.7 592.0 266.9 592.7 267.0C593.4 267.2 593.9 268.3 594.6 268.8C595.3 269.3 596.5 269.2 597.0 269.8C597.4 270.4 597.0 271.6 597.3 272.4C597.5 273.2 598.5 274.0 598.4 274.7Z" fill="#38932F" stroke="#2C7B27" stroke-width="0.7"/><circle cx="591.0" cy="274.3" r="5.8" fill="none" stroke="#2A7826" stroke-width="0.7" stroke-dasharray="0.9 1.3" opacity="0.8"/><circle cx="591.0" cy="274.3" r="4.3" fill="url(#gold)"/>
<path d="M676.2 278.6C675.8 279.3 674.6 279.4 673.9 279.9C673.3 280.4 672.9 281.6 672.2 281.8C671.5 282.1 670.5 281.4 669.7 281.4C668.8 281.4 667.8 282.0 667.1 281.8C666.4 281.5 666.1 280.3 665.5 279.8C664.8 279.2 663.6 279.1 663.3 278.4C662.9 277.8 663.4 276.7 663.3 275.8C663.2 275.0 662.3 274.1 662.5 273.4C662.6 272.6 663.7 272.1 664.2 271.4C664.6 270.7 664.5 269.5 665.1 269.0C665.7 268.5 666.9 268.9 667.7 268.6C668.5 268.3 669.2 267.3 669.9 267.4C670.7 267.4 671.4 268.4 672.2 268.7C672.9 269.0 674.1 268.7 674.7 269.2C675.3 269.7 675.1 270.9 675.5 271.6C676.0 272.4 677.0 272.9 677.2 273.6C677.3 274.4 676.4 275.2 676.2 276.1C676.1 276.9 676.6 278.0 676.2 278.6Z" fill="#38932F" stroke="#2C7B27" stroke-width="0.7"/><circle cx="669.8" cy="274.8" r="5.8" fill="none" stroke="#2A7826" stroke-width="0.7" stroke-dasharray="0.9 1.3" opacity="0.8"/><circle cx="669.8" cy="274.8" r="4.3" fill="url(#gold)"/>
<g transform="translate(705.8 274.6) rotate(0.0)"><ellipse cx="0" cy="0" rx="14.2" ry="13.0" fill="#A93140"/><ellipse cx="-0.3" cy="-0.6" rx="13.5" ry="12.1" fill="#BA3B4B"/><path d="M-11.6 -3.5 Q-8.5 -10.2 -1.4 -11.4" fill="none" stroke="#D15E6E" stroke-width="1.0" stroke-linecap="round"/><path d="M1.7 -8.2 C-7.8 -9.9 -12.1 3.5 -0.9 5.1 C-4.3 0.7 -2.8 -5.0 1.7 -8.2 Z" fill="#862830"/><path d="M6.4 -5.5 Q12.1 1.4 2.6 5.7" fill="none" stroke="#E07380" stroke-width="1.3" stroke-linecap="round"/></g>
<path d="M445.25 170.34 A5.70 5.70 0 1 1 440.45 180.64" fill="none" stroke="#A8506C" stroke-width="3.4" stroke-linecap="round"/>
<path d="M646.55 149.27 A5.60 5.60 0 1 1 637.64 142.55" fill="none" stroke="#A8506C" stroke-width="3.2" stroke-linecap="round"/>
<path d="M704.46 206.86 A4.90 4.90 0 1 1 698.19 199.39" fill="none" stroke="#A8506C" stroke-width="2.8" stroke-linecap="round"/>
<path d="M535.67 401.28 A7.30 7.30 0 1 1 548.95 406.38" fill="none" stroke="#A8506C" stroke-width="3.4" stroke-linecap="round"/>
<path d="M498.19 142.79 A8.00 8.00 0 1 1 485.02 151.84" fill="none" stroke="#4C2B52" stroke-width="4.3" stroke-linecap="round"/>
<path d="M439.63 345.58 A7.10 7.10 0 1 1 447.65 357.25" fill="none" stroke="#4C2B52" stroke-width="4.0" stroke-linecap="round"/>
<path d="M642.70 386.32 A8.50 8.50 0 1 1 655.93 375.98" fill="none" stroke="#4C2B52" stroke-width="4.3" stroke-linecap="round"/>
<path d="M442.9 180.2C442.3 180.7 441.1 180.5 440.4 180.9C439.6 181.2 439.0 182.3 438.2 182.3C437.5 182.4 436.7 181.5 435.9 181.2C435.1 181.0 433.9 181.4 433.3 181.0C432.7 180.6 432.7 179.4 432.2 178.7C431.7 178.0 430.6 177.5 430.4 176.8C430.2 176.1 431.0 175.2 431.1 174.3C431.1 173.5 430.5 172.4 430.9 171.7C431.2 171.1 432.4 170.8 433.0 170.2C433.6 169.6 433.8 168.5 434.5 168.1C435.1 167.8 436.2 168.4 437.0 168.4C437.9 168.3 438.8 167.5 439.5 167.7C440.3 167.9 440.7 169.0 441.4 169.5C442.1 170.0 443.3 170.0 443.7 170.6C444.1 171.3 443.7 172.4 443.9 173.2C444.2 174.0 445.1 174.8 445.0 175.6C444.9 176.3 443.9 176.9 443.5 177.7C443.2 178.5 443.4 179.6 442.9 180.2Z" fill="#38932F" stroke="#2C7B27" stroke-width="0.7"/><circle cx="437.6" cy="174.9" r="5.8" fill="none" stroke="#2A7826" stroke-width="0.7" stroke-dasharray="0.9 1.3" opacity="0.8"/><circle cx="437.6" cy="174.9" r="4.3" fill="url(#gold)"/>
<path d="M499.9 196.9C499.4 197.5 498.2 197.3 497.4 197.6C496.6 198.0 496.0 199.0 495.3 199.1C494.5 199.2 493.7 198.3 492.9 198.1C492.1 197.8 491.0 198.2 490.4 197.8C489.7 197.4 489.7 196.2 489.2 195.5C488.7 194.8 487.6 194.4 487.4 193.7C487.2 192.9 488.0 192.0 488.1 191.2C488.1 190.3 487.5 189.3 487.8 188.6C488.2 187.9 489.3 187.7 489.9 187.1C490.5 186.5 490.7 185.3 491.4 185.0C492.1 184.6 493.2 185.2 494.0 185.2C494.8 185.1 495.8 184.3 496.5 184.5C497.2 184.7 497.7 185.8 498.3 186.3C499.0 186.8 500.3 186.8 500.7 187.4C501.1 188.0 500.7 189.2 500.9 190.0C501.2 190.8 502.1 191.6 502.0 192.3C502.0 193.1 500.9 193.7 500.6 194.5C500.2 195.2 500.4 196.4 499.9 196.9Z" fill="#38932F" stroke="#2C7B27" stroke-width="0.7"/><circle cx="494.6" cy="191.7" r="5.8" fill="none" stroke="#2A7826" stroke-width="0.7" stroke-dasharray="0.9 1.3" opacity="0.8"/><circle cx="494.6" cy="191.7" r="4.3" fill="url(#gold)"/>
<path d="M587.5 188.0C587.2 188.7 586.1 189.0 585.5 189.6C585.0 190.3 584.9 191.5 584.2 191.9C583.6 192.2 582.5 191.7 581.6 191.9C580.8 192.0 579.9 192.9 579.2 192.7C578.4 192.6 577.9 191.5 577.2 191.1C576.5 190.7 575.3 190.7 574.8 190.2C574.3 189.6 574.6 188.4 574.3 187.6C574.0 186.8 573.1 186.1 573.1 185.4C573.1 184.6 574.0 183.9 574.3 183.1C574.6 182.3 574.3 181.2 574.8 180.6C575.3 180.0 576.5 180.1 577.2 179.7C578.0 179.3 578.5 178.2 579.2 178.1C580.0 177.9 580.8 178.8 581.7 178.9C582.5 179.1 583.6 178.6 584.2 179.0C584.9 179.3 585.0 180.5 585.5 181.2C586.1 181.8 587.3 182.2 587.5 182.9C587.8 183.6 587.1 184.6 587.1 185.4C587.1 186.3 587.7 187.3 587.5 188.0Z" fill="#38932F" stroke="#2C7B27" stroke-width="0.7"/><circle cx="580.5" cy="185.4" r="5.8" fill="none" stroke="#2A7826" stroke-width="0.7" stroke-dasharray="0.9 1.3" opacity="0.8"/><circle cx="580.5" cy="185.4" r="4.3" fill="url(#gold)"/>
<path d="M655.6 143.4C655.3 144.1 654.2 144.4 653.6 145.1C653.1 145.8 653.0 147.0 652.4 147.4C651.7 147.7 650.6 147.3 649.8 147.4C649.0 147.6 648.1 148.5 647.4 148.4C646.6 148.3 646.1 147.2 645.4 146.8C644.6 146.4 643.4 146.5 642.9 145.9C642.4 145.4 642.7 144.2 642.4 143.4C642.1 142.6 641.1 141.9 641.1 141.2C641.0 140.4 642.0 139.7 642.3 138.9C642.5 138.1 642.2 136.9 642.7 136.4C643.1 135.8 644.3 135.8 645.1 135.4C645.8 135.0 646.3 133.9 647.0 133.7C647.8 133.6 648.6 134.4 649.5 134.5C650.3 134.6 651.4 134.1 652.1 134.5C652.7 134.8 652.9 136.0 653.4 136.7C654.0 137.3 655.2 137.6 655.4 138.3C655.7 139.0 655.0 140.0 655.1 140.8C655.1 141.7 655.8 142.7 655.6 143.4Z" fill="#38932F" stroke="#2C7B27" stroke-width="0.7"/><circle cx="648.5" cy="141.0" r="5.8" fill="none" stroke="#2A7826" stroke-width="0.7" stroke-dasharray="0.9 1.3" opacity="0.8"/><circle cx="648.5" cy="141.0" r="4.3" fill="url(#gold)"/>
<path d="M712.1 205.1C711.5 205.6 710.3 205.4 709.6 205.7C708.8 206.0 708.2 207.1 707.4 207.1C706.7 207.2 705.9 206.2 705.1 206.0C704.3 205.8 703.1 206.2 702.5 205.7C701.9 205.3 701.9 204.1 701.4 203.4C701.0 202.7 699.9 202.2 699.7 201.5C699.5 200.8 700.3 199.8 700.4 199.0C700.5 198.2 699.9 197.1 700.2 196.4C700.5 195.8 701.7 195.6 702.3 195.0C703.0 194.4 703.2 193.2 703.9 192.9C704.6 192.6 705.6 193.2 706.4 193.1C707.3 193.1 708.2 192.3 709.0 192.5C709.7 192.8 710.1 193.9 710.8 194.4C711.5 194.9 712.7 194.9 713.1 195.5C713.5 196.2 713.1 197.3 713.3 198.1C713.5 198.9 714.4 199.7 714.3 200.5C714.2 201.2 713.2 201.8 712.8 202.6C712.4 203.4 712.6 204.5 712.1 205.1Z" fill="#38932F" stroke="#2C7B27" stroke-width="0.7"/><circle cx="706.9" cy="199.7" r="5.8" fill="none" stroke="#2A7826" stroke-width="0.7" stroke-dasharray="0.9 1.3" opacity="0.8"/><circle cx="706.9" cy="199.7" r="4.3" fill="url(#gold)"/>
<path d="M671.7 234.0C671.4 234.7 670.2 234.9 669.6 235.5C669.0 236.1 668.8 237.3 668.1 237.6C667.4 237.9 666.4 237.3 665.5 237.3C664.7 237.4 663.7 238.2 663.0 238.0C662.3 237.8 661.9 236.6 661.2 236.2C660.5 235.7 659.3 235.6 658.9 235.0C658.4 234.4 658.9 233.3 658.6 232.5C658.4 231.6 657.5 230.8 657.6 230.1C657.7 229.3 658.7 228.7 659.1 228.0C659.4 227.2 659.2 226.0 659.8 225.5C660.3 225.0 661.5 225.2 662.3 224.8C663.0 224.5 663.7 223.4 664.4 223.4C665.2 223.3 665.9 224.2 666.7 224.5C667.6 224.7 668.7 224.3 669.3 224.7C669.9 225.2 669.9 226.4 670.4 227.1C670.9 227.8 672.0 228.2 672.2 228.9C672.4 229.7 671.6 230.6 671.5 231.4C671.5 232.3 672.0 233.3 671.7 234.0Z" fill="#38932F" stroke="#2C7B27" stroke-width="0.7"/><circle cx="665.0" cy="230.8" r="5.8" fill="none" stroke="#2A7826" stroke-width="0.7" stroke-dasharray="0.9 1.3" opacity="0.8"/><circle cx="665.0" cy="230.8" r="4.3" fill="url(#gold)"/>
<path d="M558.4 339.8C558.4 340.6 557.4 341.2 557.1 342.0C556.8 342.8 557.1 344.0 556.6 344.6C556.1 345.1 554.9 345.0 554.1 345.4C553.4 345.8 552.8 346.9 552.1 347.0C551.3 347.1 550.5 346.2 549.7 346.0C548.8 345.9 547.7 346.3 547.1 345.9C546.4 345.5 546.4 344.3 545.8 343.7C545.3 343.0 544.2 342.6 543.9 341.9C543.7 341.2 544.4 340.3 544.4 339.4C544.5 338.6 543.8 337.5 544.1 336.8C544.4 336.2 545.5 335.9 546.1 335.2C546.7 334.6 546.8 333.4 547.5 333.0C548.1 332.7 549.2 333.2 550.1 333.1C550.9 333.0 551.8 332.2 552.5 332.3C553.2 332.5 553.7 333.6 554.5 334.0C555.2 334.5 556.4 334.4 556.8 335.0C557.3 335.6 557.0 336.7 557.2 337.5C557.5 338.3 558.5 339.1 558.4 339.8Z" fill="#38932F" stroke="#2C7B27" stroke-width="0.7"/><circle cx="551.0" cy="339.6" r="5.8" fill="none" stroke="#2A7826" stroke-width="0.7" stroke-dasharray="0.9 1.3" opacity="0.8"/><circle cx="551.0" cy="339.6" r="4.3" fill="url(#gold)"/>
<path d="M543.3 413.0C542.7 413.5 541.6 413.0 540.8 413.3C539.9 413.5 539.1 414.4 538.4 414.3C537.6 414.2 537.0 413.2 536.3 412.8C535.5 412.5 534.3 412.7 533.8 412.1C533.3 411.6 533.5 410.4 533.1 409.6C532.8 408.9 531.7 408.2 531.7 407.5C531.6 406.7 532.5 406.0 532.8 405.1C533.0 404.3 532.6 403.2 533.0 402.6C533.5 402.0 534.7 402.0 535.4 401.5C536.1 401.0 536.5 399.9 537.2 399.7C538.0 399.5 538.9 400.3 539.7 400.4C540.6 400.4 541.6 399.9 542.3 400.2C543.0 400.5 543.2 401.7 543.8 402.3C544.4 402.9 545.6 403.1 545.9 403.8C546.2 404.5 545.6 405.5 545.6 406.4C545.7 407.2 546.5 408.2 546.3 408.9C546.1 409.6 544.9 410.0 544.5 410.7C544.0 411.4 543.9 412.6 543.3 413.0Z" fill="#38932F" stroke="#2C7B27" stroke-width="0.7"/><circle cx="539.1" cy="406.9" r="5.8" fill="none" stroke="#2A7826" stroke-width="0.7" stroke-dasharray="0.9 1.3" opacity="0.8"/><circle cx="539.1" cy="406.9" r="4.3" fill="url(#gold)"/>
<circle cx="482.4" cy="214.4" r="14.0" fill="#D6CDCD" fill-opacity="0.42"/><circle cx="482.4" cy="214.4" r="11.6" fill="#9C9A9F" fill-opacity="0.55"/><ellipse cx="476.7" cy="214.1" rx="5.7" ry="2.7" fill="#DDDADB" opacity="0.55" transform="rotate(50 476.7 214.1)"/><ellipse cx="478.3" cy="206.2" rx="4.1" ry="2.9" fill="#fff" opacity="0.95" transform="rotate(-25 478.3 206.2)"/><circle cx="484.4" cy="223.9" r="1.2" fill="#fff" opacity="0.95"/><text x="484.2" y="219.5" font-size="16.6" font-weight="bold" fill="#0c0c0c" text-anchor="middle">O<tspan font-size="10.3" dy="3.8">2</tspan></text>
<circle cx="549.4" cy="219.6" r="10.2" fill="#D6CDCD" fill-opacity="0.42"/><circle cx="549.4" cy="219.6" r="8.4" fill="#9C9A9F" fill-opacity="0.55"/><ellipse cx="545.2" cy="219.4" rx="4.2" ry="2.0" fill="#DDDADB" opacity="0.55" transform="rotate(50 545.2 219.4)"/><ellipse cx="546.4" cy="213.7" rx="3.0" ry="2.1" fill="#fff" opacity="0.95" transform="rotate(-25 546.4 213.7)"/><circle cx="550.9" cy="226.5" r="0.8" fill="#fff" opacity="0.95"/><text x="550.7" y="223.3" font-size="12.1" font-weight="bold" fill="#0c0c0c" text-anchor="middle">O<tspan font-size="7.5" dy="2.8">2</tspan></text>
<circle cx="589.4" cy="204.3" r="14.9" fill="#D6CDCD" fill-opacity="0.42"/><circle cx="589.4" cy="204.3" r="12.3" fill="#9C9A9F" fill-opacity="0.55"/><ellipse cx="583.3" cy="204.0" rx="6.1" ry="2.9" fill="#DDDADB" opacity="0.55" transform="rotate(50 583.3 204.0)"/><ellipse cx="585.0" cy="195.6" rx="4.3" ry="3.0" fill="#fff" opacity="0.95" transform="rotate(-25 585.0 195.6)"/><circle cx="591.6" cy="214.5" r="1.2" fill="#fff" opacity="0.95"/><text x="591.3" y="209.8" font-size="17.7" font-weight="bold" fill="#0c0c0c" text-anchor="middle">O<tspan font-size="11.0" dy="4.1">2</tspan></text>
<circle cx="637.2" cy="216.8" r="15.0" fill="#D6CDCD" fill-opacity="0.42"/><circle cx="637.2" cy="216.8" r="12.4" fill="#9C9A9F" fill-opacity="0.55"/><ellipse cx="631.1" cy="216.5" rx="6.1" ry="2.9" fill="#DDDADB" opacity="0.55" transform="rotate(50 631.1 216.5)"/><ellipse cx="632.8" cy="208.0" rx="4.4" ry="3.1" fill="#fff" opacity="0.95" transform="rotate(-25 632.8 208.0)"/><circle cx="639.4" cy="227.0" r="1.2" fill="#fff" opacity="0.95"/><text x="639.1" y="222.3" font-size="17.8" font-weight="bold" fill="#0c0c0c" text-anchor="middle">O<tspan font-size="11.0" dy="4.1">2</tspan></text>
<circle cx="588.7" cy="239.7" r="6.5" fill="#D6CDCD" fill-opacity="0.42"/><circle cx="588.7" cy="239.7" r="5.4" fill="#9C9A9F" fill-opacity="0.55"/><ellipse cx="586.1" cy="239.6" rx="2.6" ry="1.3" fill="#DDDADB" opacity="0.55" transform="rotate(50 586.1 239.6)"/><ellipse cx="586.8" cy="235.9" rx="1.9" ry="1.3" fill="#fff" opacity="0.95" transform="rotate(-25 586.8 235.9)"/><circle cx="589.6" cy="244.1" r="0.6" fill="#fff" opacity="0.95"/><text x="589.5" y="242.1" font-size="7.7" font-weight="bold" fill="#0c0c0c" text-anchor="middle">O<tspan font-size="4.8" dy="1.8">2</tspan></text>
<circle cx="583.6" cy="313.5" r="10.6" fill="#D6CDCD" fill-opacity="0.42"/><circle cx="583.6" cy="313.5" r="8.8" fill="#9C9A9F" fill-opacity="0.55"/><ellipse cx="579.3" cy="313.3" rx="4.3" ry="2.1" fill="#DDDADB" opacity="0.55" transform="rotate(50 579.3 313.3)"/><ellipse cx="580.5" cy="307.3" rx="3.1" ry="2.2" fill="#fff" opacity="0.95" transform="rotate(-25 580.5 307.3)"/><circle cx="585.1" cy="320.7" r="0.9" fill="#fff" opacity="0.95"/><text x="584.9" y="317.4" font-size="12.6" font-weight="bold" fill="#0c0c0c" text-anchor="middle">O<tspan font-size="7.8" dy="2.9">2</tspan></text>
<circle cx="571.2" cy="348.0" r="15.7" fill="#D6CDCD" fill-opacity="0.42"/><circle cx="571.2" cy="348.0" r="12.9" fill="#9C9A9F" fill-opacity="0.55"/><ellipse cx="564.8" cy="347.7" rx="6.4" ry="3.0" fill="#DDDADB" opacity="0.55" transform="rotate(50 564.8 347.7)"/><ellipse cx="566.6" cy="338.9" rx="4.6" ry="3.2" fill="#fff" opacity="0.95" transform="rotate(-25 566.6 338.9)"/><circle cx="573.5" cy="358.6" r="1.3" fill="#fff" opacity="0.95"/><text x="573.2" y="353.7" font-size="18.5" font-weight="bold" fill="#0c0c0c" text-anchor="middle">O<tspan font-size="11.5" dy="4.3">2</tspan></text>
<path d="M714.5 141.8L714.0 142.0L713.4 142.1L712.9 142.3L712.4 142.4L711.9 142.6L711.4 142.8L711.0 143.1L710.7 143.5L710.5 143.9L710.4 144.4L710.3 145.0L710.3 145.7L710.4 146.4L710.5 147.1L710.6 147.8L710.7 148.6L710.7 149.2L710.7 149.8L710.5 150.3L710.2 150.7L709.8 150.9L709.2 151.1L708.6 151.1L707.8 151.0L706.9 150.8L706.0 150.6L705.0 150.4L704.1 150.2L703.2 150.0L702.4 149.9L701.8 150.0L701.3 150.2L701.0 150.5L700.8 151.0L700.9 151.7L701.1 152.6L701.5 153.6L702.0 154.6L702.5 155.8L703.0 156.9L703.5 158.0L703.9 159.0L704.1 159.8L704.2 160.5L704.0 161.0L703.6 161.3L703.0 161.3L702.1 161.2L701.0 160.8L699.8 160.4L698.5 159.8L697.1 159.1L695.7 158.5L694.4 158.0L693.3 157.5L692.3 157.3L691.6 157.3L691.1 157.5L691.0 158.0L691.1 158.8L691.5 159.8L692.1 161.0L693.0 162.4L693.9 163.9L694.9 165.4L695.8 166.9L696.6 168.3L697.2 169.6L697.6 170.5L697.6 171.2L697.3 171.6L696.7 171.6L695.7 171.4L694.5 170.9L693.0 170.2L691.4 169.3L689.8 168.4L688.1 167.5L686.5 166.7L685.1 166.0L683.9 165.6L683.0 165.4L682.4 165.5L682.1 165.9L682.2 166.6L682.5 167.6L683.2 168.8L684.0 170.2L685.0 171.7L686.1 173.4L687.1 174.9L688.0 176.4L688.7 177.8L689.2 178.9L689.5 179.7L688.2 179.2L686.7 178.5L685.1 177.7L683.7 176.9L682.5 176.5L667.6 187.2" fill="none" stroke="url(#xg)" stroke-width="3" stroke-linecap="round" stroke-linejoin="round"/>
<path d="M671.6 176.8 L667 187.8 L678.8 184.9" fill="none" stroke="#EE4936" stroke-width="3" stroke-linecap="round" stroke-linejoin="round"/>
<text x="696.5" y="140.9" font-size="21" fill="#111">X-ray</text>
<text x="376.6" y="164.7" font-size="21.2" fill="#111">Pt-HFn</text>
<text x="404.2" y="205.7" font-size="20.3" fill="#111">TfR1</text>
</g>
<rect x="365" y="117" width="391" height="307" fill="none" stroke="#151111" stroke-width="1.6"/>
</svg>
<div class="h" style="left:137.5px;top:45.7px;">Hypoxia-tropic<br>delivery</div>
<div class="h" style="left:395px;top:45.7px;">In situ oxygen<br>generation</div>
<div class="h" style="left:651px;top:45.7px;">Radiotherapy<br>sensitization</div>
</body></html>
